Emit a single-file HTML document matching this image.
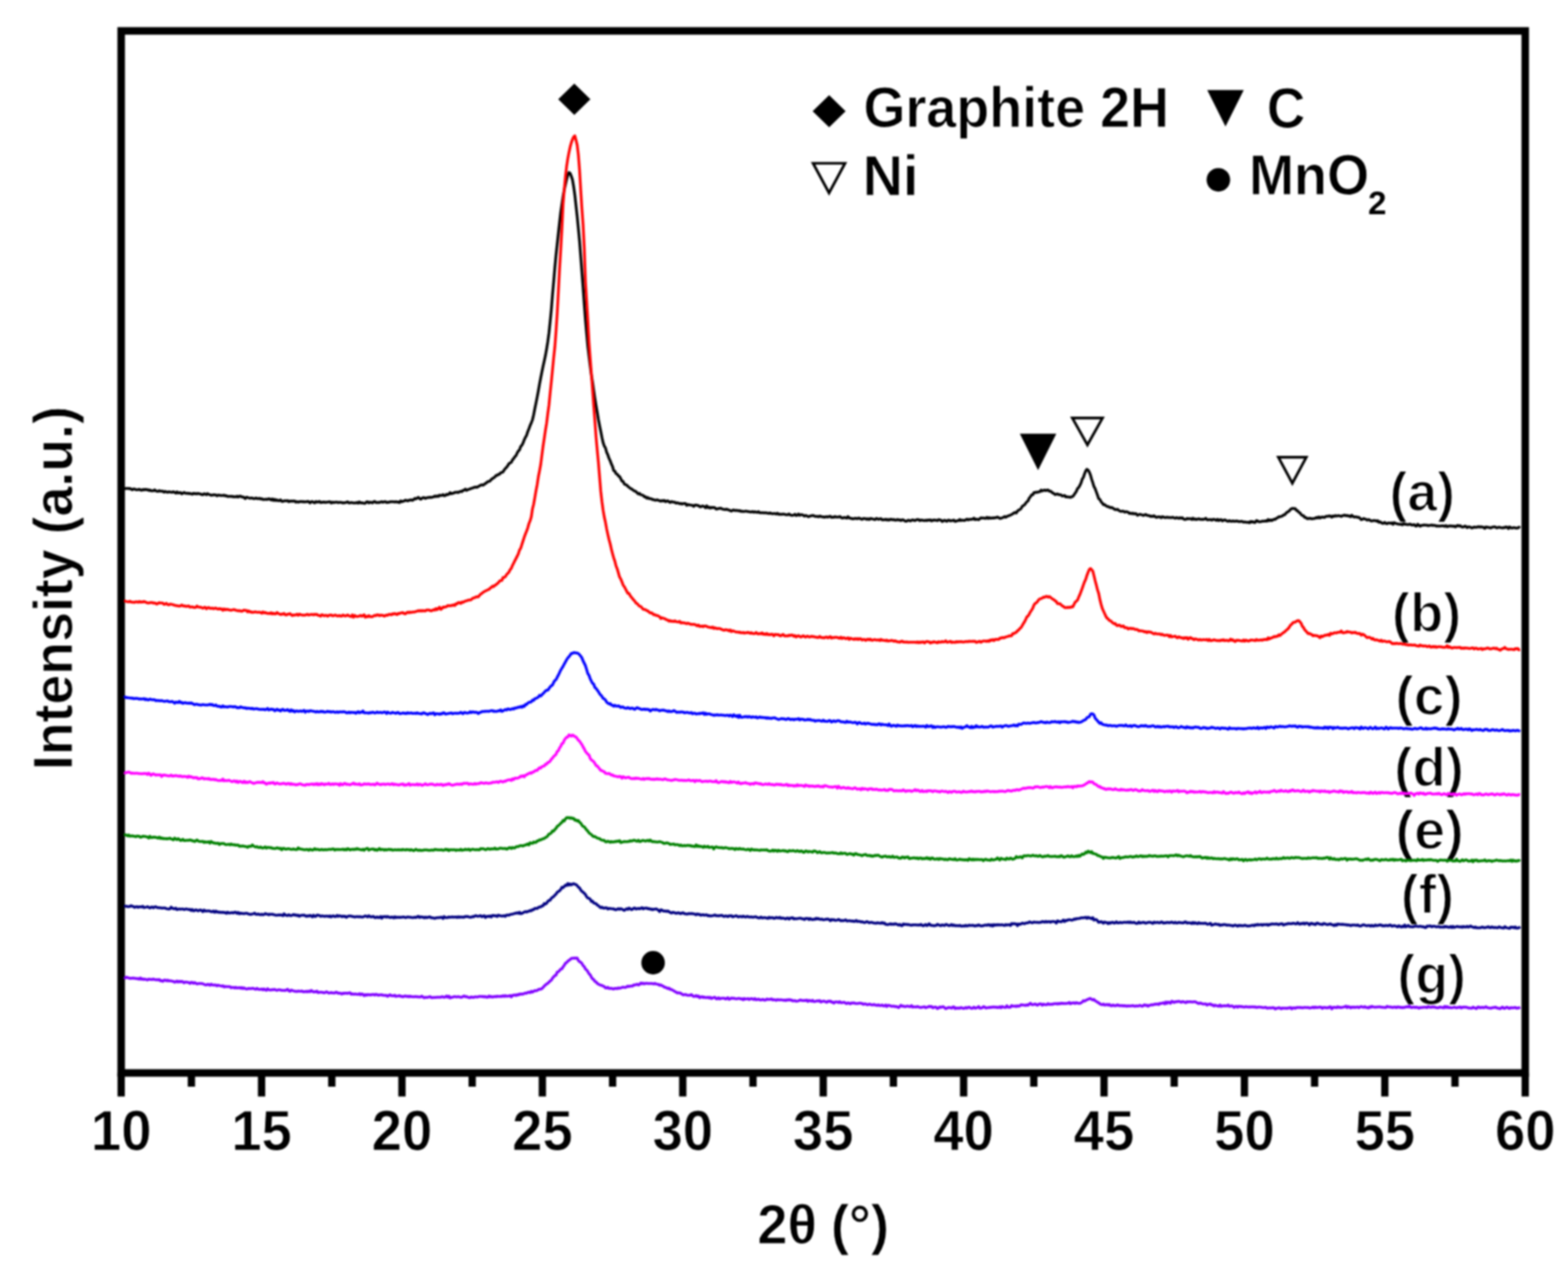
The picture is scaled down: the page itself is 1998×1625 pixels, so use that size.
<!DOCTYPE html>
<html><head><meta charset="utf-8"><title>XRD patterns</title>
<style>html,body{margin:0;padding:0;background:#fff;overflow:hidden}svg{display:block}#w{filter:blur(1px)}</style>
</head><body>
<div id="w"><svg width="1998" height="1625" viewBox="0 0 1998 1625"><rect x="0" y="0" width="1998" height="1625" fill="#fff"/>
<rect x="154.4" y="39.4" width="1789.1" height="1328.1" fill="none" stroke="#000" stroke-width="9.6"/>
<path d="M154.4 1367.5 V1397.5 M243.9 1367.5 V1385 M333.3 1367.5 V1397.5 M422.8 1367.5 V1385 M512.2 1367.5 V1397.5 M601.7 1367.5 V1385 M691.1 1367.5 V1397.5 M780.6 1367.5 V1385 M870.0 1367.5 V1397.5 M959.5 1367.5 V1385 M1049.0 1367.5 V1397.5 M1138.4 1367.5 V1385 M1227.9 1367.5 V1397.5 M1317.3 1367.5 V1385 M1406.8 1367.5 V1397.5 M1496.2 1367.5 V1385 M1585.7 1367.5 V1397.5 M1675.1 1367.5 V1385 M1764.6 1367.5 V1397.5 M1854.0 1367.5 V1385 M1943.5 1367.5 V1397.5" stroke="#000" stroke-width="9.3" fill="none"/>
<g font-family='"Liberation Sans", Arial, Helvetica, sans-serif' font-weight="bold" fill="#000" stroke="#fff" stroke-width="1.0">
<text x="115.8" y="1466" font-size="72" textLength="77.3" lengthAdjust="spacingAndGlyphs">10</text>
<text x="294.7" y="1466" font-size="72" textLength="77.3" lengthAdjust="spacingAndGlyphs">15</text>
<text x="473.6" y="1466" font-size="72" textLength="77.3" lengthAdjust="spacingAndGlyphs">20</text>
<text x="652.5" y="1466" font-size="72" textLength="77.3" lengthAdjust="spacingAndGlyphs">25</text>
<text x="831.4" y="1466" font-size="72" textLength="77.3" lengthAdjust="spacingAndGlyphs">30</text>
<text x="1010.3" y="1466" font-size="72" textLength="77.3" lengthAdjust="spacingAndGlyphs">35</text>
<text x="1189.2" y="1466" font-size="72" textLength="77.3" lengthAdjust="spacingAndGlyphs">40</text>
<text x="1368.1" y="1466" font-size="72" textLength="77.3" lengthAdjust="spacingAndGlyphs">45</text>
<text x="1547.0" y="1466" font-size="72" textLength="77.3" lengthAdjust="spacingAndGlyphs">50</text>
<text x="1725.9" y="1466" font-size="72" textLength="77.3" lengthAdjust="spacingAndGlyphs">55</text>
<text x="1904.9" y="1466" font-size="72" textLength="77.3" lengthAdjust="spacingAndGlyphs">60</text>
<text x="965.1" y="1585.0" font-size="71" textLength="75.9" lengthAdjust="spacingAndGlyphs">2θ</text>
<text x="1058.7" y="1585.0" font-size="71" textLength="74.1" lengthAdjust="spacingAndGlyphs">(°)</text>
<g transform="translate(92 977) rotate(-90)"><text x="-4.6" y="0.0" font-size="71" textLength="464.0" lengthAdjust="spacingAndGlyphs">Intensity (a.u.)</text></g>
<text x="1100.2" y="162.0" font-size="72" textLength="389.4" lengthAdjust="spacingAndGlyphs">Graphite 2H</text>
<text x="1099.2" y="248.6" font-size="72" textLength="71.2" lengthAdjust="spacingAndGlyphs">Ni</text>
<text x="1614.2" y="163.0" font-size="72" textLength="49.0" lengthAdjust="spacingAndGlyphs">C</text>
<text x="1591.4" y="248.4" font-size="72" textLength="153.2" lengthAdjust="spacingAndGlyphs">MnO</text>
<text x="1743.2" y="273.0" font-size="43" textLength="23.4" lengthAdjust="spacingAndGlyphs" stroke="none">2</text>
</g>
<g font-family='"Liberation Sans", Arial, Helvetica, sans-serif' font-weight="bold" fill="#000" stroke="#fff" stroke-width="2.0">
<text x="1770.4" y="651.0" font-size="70" textLength="83.8" lengthAdjust="spacingAndGlyphs">(a)</text>
<text x="1773.6" y="805.0" font-size="70" textLength="88.4" lengthAdjust="spacingAndGlyphs">(b)</text>
<text x="1778.0" y="910.5" font-size="70" textLength="86.0" lengthAdjust="spacingAndGlyphs">(c)</text>
<text x="1776.5" y="1001.5" font-size="70" textLength="88.9" lengthAdjust="spacingAndGlyphs">(d)</text>
<text x="1777.9" y="1082.0" font-size="70" textLength="87.6" lengthAdjust="spacingAndGlyphs">(e)</text>
<text x="1785.1" y="1163.5" font-size="70" textLength="67.6" lengthAdjust="spacingAndGlyphs">(f)</text>
<text x="1780.6" y="1266.0" font-size="70" textLength="87.4" lengthAdjust="spacingAndGlyphs">(g)</text>
</g>
<path d="M158.0 622.5 159.5 622.8 161.0 622.6 162.5 622.4 164.0 622.8 165.5 622.6 167.0 623.3 168.5 624.2 170.0 623.3 171.5 623.3 173.0 624.1 174.5 624.2 176.0 624.1 177.5 623.6 179.0 624.3 180.5 624.9 182.0 623.8 183.5 624.4 185.0 623.7 186.5 624.2 188.0 624.0 189.5 625.0 191.0 624.5 192.5 625.6 194.0 625.6 195.5 625.5 197.0 624.3 198.5 625.6 200.0 626.0 201.5 626.2 203.0 625.3 204.5 626.0 206.0 625.9 207.5 626.1 209.0 627.3 210.5 626.3 212.0 626.8 213.5 627.5 215.0 626.7 216.5 627.1 218.0 627.3 219.5 627.4 221.0 626.7 222.5 627.6 224.0 628.5 225.5 626.8 227.0 628.4 228.5 628.0 230.0 627.7 231.5 629.4 233.0 628.7 234.5 627.6 236.0 628.5 237.5 628.9 239.0 628.5 240.5 629.2 242.0 628.8 243.5 629.3 245.0 629.9 246.5 628.7 248.0 629.3 249.5 629.0 251.0 629.5 252.5 628.8 254.0 629.3 255.5 629.6 257.0 630.3 258.5 630.6 260.0 629.2 261.5 629.6 263.0 630.6 264.5 629.1 266.0 630.1 267.5 630.4 269.0 631.3 270.5 631.1 272.0 630.6 273.5 630.7 275.0 630.8 276.5 632.0 278.0 631.0 279.5 631.1 281.0 631.6 282.5 631.5 284.0 631.5 285.5 631.1 287.0 631.9 288.5 631.8 290.0 632.8 291.5 632.7 293.0 632.4 294.5 632.9 296.0 632.4 297.5 633.4 299.0 632.9 300.5 633.4 302.0 632.4 303.5 633.5 305.0 632.4 306.5 632.3 308.0 633.5 309.5 633.3 311.0 634.1 312.5 635.5 314.0 633.7 315.5 634.0 317.0 634.6 318.5 635.0 320.0 634.7 321.5 634.8 323.0 635.5 324.5 635.5 326.0 634.7 327.5 635.4 329.0 635.6 330.5 635.1 332.0 636.0 333.5 635.5 335.0 636.7 336.5 636.4 338.0 636.5 339.5 636.2 341.0 636.6 342.5 635.6 344.0 636.2 345.5 637.3 347.0 635.9 348.5 637.8 350.0 636.4 351.5 638.0 353.0 637.1 354.5 638.2 356.0 638.0 357.5 637.1 359.0 638.9 360.5 639.1 362.0 638.3 363.5 638.3 365.0 638.4 366.5 638.0 368.0 639.4 369.5 638.5 371.0 638.9 372.5 638.5 374.0 638.7 375.5 638.4 377.0 640.0 378.5 639.2 380.0 640.0 381.5 639.5 383.0 639.1 384.5 639.4 386.0 639.3 387.5 639.7 389.0 639.5 390.5 639.6 392.0 639.0 393.5 639.4 395.0 640.9 396.5 639.5 398.0 639.3 399.5 640.2 401.0 640.9 402.5 639.2 404.0 639.9 405.5 639.7 407.0 639.0 408.5 640.6 410.0 640.1 411.5 640.2 413.0 639.7 414.5 640.5 416.0 639.9 417.5 640.1 419.0 639.6 420.5 639.5 422.0 641.1 423.5 640.0 425.0 640.5 426.5 640.3 428.0 640.1 429.5 640.0 431.0 640.7 432.5 640.2 434.0 640.3 435.5 640.4 437.0 641.1 438.5 640.8 440.0 640.7 441.5 640.1 443.0 639.6 444.5 641.0 446.0 641.0 447.5 640.4 449.0 640.8 450.5 640.9 452.0 641.0 453.5 641.0 455.0 640.2 456.5 641.4 458.0 639.7 459.5 641.0 461.0 640.8 462.5 641.0 464.0 641.6 465.5 641.4 467.0 639.8 468.5 639.5 470.0 641.0 471.5 639.9 473.0 640.4 474.5 640.9 476.0 639.4 477.5 639.1 479.0 640.5 480.5 640.4 482.0 640.2 483.5 640.4 485.0 639.8 486.5 639.4 488.0 640.2 489.5 639.6 491.0 639.2 492.5 640.5 494.0 640.1 495.5 640.3 497.0 639.5 498.5 639.6 500.0 639.4 501.5 639.4 503.0 640.0 504.5 639.3 506.0 639.9 507.5 639.7 509.0 640.6 510.5 638.4 512.0 639.5 513.5 638.8 515.0 638.6 516.5 637.5 518.0 637.9 519.5 638.4 521.0 637.6 522.5 637.5 524.0 637.0 525.5 637.7 527.0 636.7 528.5 635.2 530.0 635.9 531.5 634.9 533.0 633.9 534.5 635.3 536.0 636.3 537.5 635.3 539.0 634.3 540.5 634.3 542.0 635.3 543.5 634.5 545.0 634.2 546.5 633.9 548.0 633.8 549.5 634.0 551.0 633.6 552.5 633.2 554.0 632.2 555.5 632.9 557.0 632.0 558.5 632.8 560.0 631.1 561.5 631.5 563.0 631.4 564.5 630.3 566.0 631.9 567.5 631.5 569.0 630.0 570.5 630.5 572.0 629.9 573.5 627.8 575.0 629.3 576.5 628.7 578.0 628.5 579.5 627.5 581.0 627.6 582.5 627.3 584.0 627.7 585.5 626.8 587.0 626.2 588.5 626.7 590.0 625.0 591.5 624.7 593.0 623.4 594.5 625.0 596.0 624.2 597.5 623.7 599.0 623.2 600.5 622.4 602.0 622.1 603.5 621.4 605.0 621.0 606.5 620.7 608.0 621.1 609.5 620.1 611.0 619.2 612.5 618.4 614.0 617.8 615.5 618.5 617.0 617.3 618.5 616.3 620.0 615.3 621.5 613.9 623.0 613.5 624.5 613.0 626.0 611.0 627.5 610.0 629.0 608.9 630.5 608.0 632.0 606.0 633.5 605.9 635.0 604.5 636.5 604.5 638.0 602.5 639.5 602.1 641.0 601.4 642.5 598.8 644.0 597.0 645.5 595.6 647.0 593.5 648.5 591.0 650.0 590.0 651.5 589.2 653.0 586.2 654.5 584.5 656.0 582.1 657.5 580.8 659.0 577.4 660.5 574.8 662.0 573.4 663.5 569.2 665.0 567.5 666.5 564.6 668.0 560.6 669.5 557.4 671.0 554.8 672.5 550.1 674.0 546.4 675.5 542.3 677.0 539.0 678.5 535.0 680.0 528.7 681.5 520.9 683.0 513.7 684.5 506.0 686.0 498.2 687.5 489.5 689.0 481.6 690.5 474.1 692.0 466.9 693.5 460.2 695.0 453.2 696.5 444.9 698.0 435.5 699.5 424.5 701.0 410.1 702.5 394.8 704.0 375.9 705.5 359.2 707.0 341.1 708.5 325.1 710.0 311.2 711.5 297.2 713.0 283.6 714.5 270.5 716.0 260.3 717.5 250.2 719.0 241.8 720.5 235.3 722.0 228.6 723.5 223.1 725.0 219.9 726.5 221.0 728.0 224.6 729.5 229.3 731.0 238.1 732.5 248.7 734.0 262.5 735.5 276.2 737.0 291.7 738.5 307.5 740.0 327.1 741.5 346.9 743.0 366.9 744.5 388.0 746.0 407.8 747.5 425.1 749.0 441.5 750.5 454.1 752.0 466.3 753.5 477.9 755.0 486.6 756.5 497.2 758.0 507.5 759.5 516.9 761.0 525.3 762.5 534.6 764.0 542.3 765.5 549.7 767.0 557.4 768.5 564.2 770.0 568.5 771.5 570.9 773.0 576.4 774.5 579.6 776.0 584.1 777.5 587.2 779.0 591.3 780.5 594.5 782.0 599.8 783.5 600.6 785.0 603.7 786.5 604.3 788.0 606.6 789.5 607.4 791.0 610.2 792.5 613.1 794.0 613.7 795.5 616.7 797.0 617.7 798.5 618.2 800.0 619.8 801.5 621.0 803.0 622.3 804.5 623.1 806.0 624.0 807.5 625.3 809.0 625.9 810.5 626.6 812.0 628.3 813.5 629.6 815.0 628.9 816.5 630.6 818.0 630.9 819.5 631.4 821.0 633.2 822.5 633.1 824.0 634.9 825.5 634.1 827.0 635.4 828.5 635.5 830.0 635.7 831.5 636.8 833.0 636.7 834.5 637.5 836.0 637.4 837.5 637.0 839.0 637.8 840.5 638.1 842.0 638.8 843.5 637.9 845.0 638.6 846.5 637.8 848.0 639.4 849.5 638.6 851.0 638.3 852.5 639.6 854.0 640.5 855.5 639.2 857.0 639.7 858.5 640.1 860.0 640.1 861.5 641.3 863.0 640.8 864.5 641.1 866.0 642.1 867.5 641.5 869.0 642.4 870.5 641.8 872.0 641.8 873.5 641.7 875.0 644.1 876.5 643.0 878.0 643.5 879.5 643.6 881.0 643.9 882.5 644.0 884.0 645.4 885.5 643.8 887.0 643.7 888.5 644.2 890.0 644.2 891.5 645.7 893.0 645.9 894.5 645.1 896.0 645.0 897.5 645.8 899.0 647.1 900.5 644.7 902.0 647.0 903.5 646.2 905.0 647.6 906.5 646.6 908.0 647.2 909.5 646.7 911.0 647.2 912.5 648.8 914.0 648.7 915.5 648.1 917.0 648.0 918.5 647.6 920.0 648.6 921.5 649.0 923.0 649.2 924.5 649.4 926.0 648.9 927.5 649.7 929.0 649.9 930.5 650.9 932.0 651.4 933.5 650.3 935.0 650.1 936.5 650.7 938.0 650.5 939.5 650.6 941.0 651.1 942.5 650.7 944.0 651.8 945.5 651.5 947.0 651.9 948.5 651.8 950.0 651.6 951.5 651.6 953.0 652.1 954.5 652.1 956.0 652.6 957.5 652.6 959.0 651.9 960.5 652.9 962.0 652.2 963.5 652.7 965.0 653.0 966.5 652.1 968.0 653.5 969.5 653.6 971.0 653.6 972.5 653.5 974.0 653.7 975.5 653.4 977.0 653.9 978.5 653.9 980.0 654.4 981.5 653.7 983.0 654.6 984.5 654.7 986.0 654.6 987.5 654.5 989.0 655.2 990.5 654.0 992.0 655.4 993.5 655.3 995.0 655.4 996.5 655.6 998.0 655.1 999.5 655.4 1001.0 656.0 1002.5 656.0 1004.0 656.0 1005.5 655.0 1007.0 656.3 1008.5 656.8 1010.0 656.8 1011.5 656.4 1013.0 655.4 1014.5 657.0 1016.0 656.5 1017.5 655.1 1019.0 656.9 1020.5 655.9 1022.0 656.1 1023.5 656.6 1025.0 657.8 1026.5 656.9 1028.0 657.4 1029.5 658.4 1031.0 658.4 1032.5 657.4 1034.0 657.4 1035.5 656.9 1037.0 657.3 1038.5 658.1 1040.0 658.2 1041.5 658.1 1043.0 658.7 1044.5 657.7 1046.0 658.2 1047.5 658.8 1049.0 658.8 1050.5 659.2 1052.0 658.8 1053.5 658.5 1055.0 659.0 1056.5 658.2 1058.0 657.9 1059.5 659.4 1061.0 659.1 1062.5 659.3 1064.0 658.2 1065.5 659.1 1067.0 659.0 1068.5 659.0 1070.0 658.2 1071.5 659.4 1073.0 660.2 1074.5 660.0 1076.0 659.5 1077.5 659.9 1079.0 660.4 1080.5 658.4 1082.0 660.0 1083.5 660.5 1085.0 660.7 1086.5 661.3 1088.0 661.1 1089.5 660.6 1091.0 660.7 1092.5 661.1 1094.0 660.3 1095.5 660.7 1097.0 661.3 1098.5 662.0 1100.0 660.8 1101.5 660.9 1103.0 661.1 1104.5 661.9 1106.0 661.1 1107.5 662.1 1109.0 660.7 1110.5 661.2 1112.0 661.3 1113.5 661.9 1115.0 662.2 1116.5 660.7 1118.0 661.1 1119.5 661.9 1121.0 661.4 1122.5 661.0 1124.0 662.6 1125.5 662.3 1127.0 662.4 1128.5 661.8 1130.0 662.8 1131.5 662.1 1133.0 663.0 1134.5 661.8 1136.0 661.9 1137.5 662.6 1139.0 662.1 1140.5 663.0 1142.0 662.8 1143.5 662.1 1145.0 662.8 1146.5 662.6 1148.0 663.4 1149.5 662.5 1151.0 662.6 1152.5 663.7 1154.0 664.3 1155.5 664.2 1157.0 663.1 1158.5 663.2 1160.0 664.0 1161.5 663.1 1163.0 662.6 1164.5 663.2 1166.0 663.4 1167.5 662.7 1169.0 662.2 1170.5 662.3 1172.0 663.6 1173.5 662.7 1175.0 663.1 1176.5 663.3 1178.0 663.6 1179.5 663.0 1181.0 663.5 1182.5 662.7 1184.0 663.0 1185.5 662.6 1187.0 663.9 1188.5 663.2 1190.0 662.8 1191.5 663.0 1193.0 663.1 1194.5 663.6 1196.0 662.2 1197.5 662.6 1199.0 663.0 1200.5 664.7 1202.0 663.8 1203.5 663.1 1205.0 663.6 1206.5 664.4 1208.0 663.1 1209.5 663.0 1211.0 663.9 1212.5 663.5 1214.0 663.6 1215.5 662.9 1217.0 664.4 1218.5 664.2 1220.0 663.5 1221.5 663.6 1223.0 662.0 1224.5 663.5 1226.0 662.9 1227.5 663.2 1229.0 663.3 1230.5 662.6 1232.0 661.6 1233.5 662.7 1235.0 661.9 1236.5 662.0 1238.0 661.7 1239.5 661.7 1241.0 660.4 1242.5 662.3 1244.0 661.6 1245.5 662.0 1247.0 662.4 1248.5 661.1 1250.0 659.9 1251.5 660.4 1253.0 660.1 1254.5 660.5 1256.0 660.8 1257.5 659.4 1259.0 660.8 1260.5 659.6 1262.0 660.6 1263.5 660.3 1265.0 660.1 1266.5 660.2 1268.0 659.8 1269.5 659.7 1271.0 658.9 1272.5 659.8 1274.0 660.7 1275.5 660.6 1277.0 660.0 1278.5 659.4 1280.0 658.3 1281.5 659.3 1283.0 658.1 1284.5 657.7 1286.0 657.0 1287.5 656.6 1289.0 655.6 1290.5 655.0 1292.0 653.6 1293.5 653.1 1295.0 653.8 1296.5 651.4 1298.0 650.2 1299.5 649.5 1301.0 648.2 1302.5 645.5 1304.0 644.4 1305.5 643.4 1307.0 641.3 1308.5 639.5 1310.0 638.3 1311.5 634.8 1313.0 633.1 1314.5 630.8 1316.0 630.6 1317.5 627.7 1319.0 627.8 1320.5 627.2 1322.0 627.4 1323.5 626.8 1325.0 626.8 1326.5 624.7 1328.0 625.8 1329.5 624.9 1331.0 624.6 1332.5 625.3 1334.0 624.7 1335.5 624.4 1337.0 625.9 1338.5 625.9 1340.0 627.1 1341.5 628.4 1343.0 629.0 1344.5 630.4 1346.0 629.9 1347.5 629.5 1349.0 630.4 1350.5 630.6 1352.0 630.8 1353.5 632.2 1355.0 631.9 1356.5 631.4 1358.0 633.3 1359.5 633.1 1361.0 633.6 1362.5 633.5 1364.0 633.9 1365.5 633.1 1367.0 632.8 1368.5 630.7 1370.0 628.6 1371.5 626.3 1373.0 622.8 1374.5 621.3 1376.0 618.7 1377.5 615.6 1379.0 610.7 1380.5 608.4 1382.0 603.8 1383.5 600.1 1385.0 598.2 1386.5 599.2 1388.0 601.7 1389.5 605.4 1391.0 610.8 1392.5 615.3 1394.0 620.2 1395.5 622.9 1397.0 627.0 1398.5 631.2 1400.0 635.6 1401.5 636.5 1403.0 639.4 1404.5 641.1 1406.0 643.2 1407.5 643.1 1409.0 644.4 1410.5 645.4 1412.0 645.6 1413.5 646.3 1415.0 647.1 1416.5 646.7 1418.0 647.6 1419.5 648.6 1421.0 649.4 1422.5 649.6 1424.0 649.1 1425.5 650.3 1427.0 651.4 1428.5 651.7 1430.0 651.6 1431.5 651.5 1433.0 652.7 1434.5 652.3 1436.0 652.3 1437.5 652.8 1439.0 654.4 1440.5 653.9 1442.0 654.8 1443.5 654.0 1445.0 655.1 1446.5 654.5 1448.0 655.0 1449.5 656.8 1451.0 656.0 1452.5 655.4 1454.0 655.9 1455.5 656.3 1457.0 657.0 1458.5 656.2 1460.0 655.7 1461.5 656.7 1463.0 657.1 1464.5 657.3 1466.0 658.2 1467.5 657.8 1469.0 658.3 1470.5 657.3 1472.0 658.6 1473.5 659.5 1475.0 658.9 1476.5 658.7 1478.0 658.8 1479.5 659.9 1481.0 658.4 1482.5 659.0 1484.0 659.5 1485.5 659.7 1487.0 659.1 1488.5 659.7 1490.0 659.4 1491.5 659.8 1493.0 659.7 1494.5 659.2 1496.0 660.0 1497.5 660.6 1499.0 659.6 1500.5 660.1 1502.0 660.7 1503.5 659.8 1505.0 660.6 1506.5 659.9 1508.0 661.3 1509.5 662.1 1511.0 662.0 1512.5 660.7 1514.0 661.4 1515.5 661.1 1517.0 661.1 1518.5 662.1 1520.0 660.4 1521.5 661.9 1523.0 661.3 1524.5 662.2 1526.0 661.6 1527.5 661.1 1529.0 661.8 1530.5 662.1 1532.0 661.7 1533.5 662.1 1535.0 661.5 1536.5 660.6 1538.0 662.5 1539.5 662.5 1541.0 662.2 1542.5 662.2 1544.0 662.9 1545.5 662.1 1547.0 662.0 1548.5 662.4 1550.0 663.3 1551.5 661.9 1553.0 663.5 1554.5 662.5 1556.0 662.3 1557.5 663.9 1559.0 663.2 1560.5 662.5 1562.0 663.2 1563.5 664.1 1565.0 664.4 1566.5 663.5 1568.0 664.2 1569.5 664.5 1571.0 663.8 1572.5 664.5 1574.0 664.3 1575.5 664.1 1577.0 664.3 1578.5 664.7 1580.0 664.7 1581.5 664.5 1583.0 664.6 1584.5 665.6 1586.0 665.1 1587.5 665.5 1589.0 665.7 1590.5 665.4 1592.0 666.4 1593.5 664.5 1595.0 665.4 1596.5 664.7 1598.0 666.0 1599.5 665.8 1601.0 663.5 1602.5 664.0 1604.0 664.9 1605.5 664.9 1607.0 664.8 1608.5 664.2 1610.0 664.3 1611.5 664.3 1613.0 663.7 1614.5 664.3 1616.0 662.1 1617.5 663.7 1619.0 662.5 1620.5 663.5 1622.0 662.5 1623.5 661.7 1625.0 661.9 1626.5 660.5 1628.0 659.8 1629.5 658.6 1631.0 658.7 1632.5 658.2 1634.0 657.7 1635.5 656.2 1637.0 656.0 1638.5 654.3 1640.0 652.9 1641.5 652.0 1643.0 651.0 1644.5 649.1 1646.0 648.3 1647.5 647.9 1649.0 648.2 1650.5 648.3 1652.0 650.5 1653.5 651.0 1655.0 653.0 1656.5 653.7 1658.0 655.8 1659.5 657.0 1661.0 657.3 1662.5 659.6 1664.0 659.4 1665.5 660.9 1667.0 661.0 1668.5 660.5 1670.0 660.8 1671.5 661.2 1673.0 661.0 1674.5 660.8 1676.0 660.5 1677.5 659.4 1679.0 660.2 1680.5 658.8 1682.0 660.2 1683.5 659.3 1685.0 659.1 1686.5 659.2 1688.0 659.4 1689.5 658.2 1691.0 657.9 1692.5 658.1 1694.0 657.4 1695.5 657.9 1697.0 659.2 1698.5 657.5 1700.0 658.3 1701.5 657.0 1703.0 657.8 1704.5 657.3 1706.0 657.3 1707.5 657.6 1709.0 658.2 1710.5 657.2 1712.0 657.1 1713.5 656.4 1715.0 657.4 1716.5 656.9 1718.0 657.7 1719.5 657.4 1721.0 658.7 1722.5 656.7 1724.0 658.0 1725.5 659.1 1727.0 658.7 1728.5 658.8 1730.0 659.5 1731.5 659.2 1733.0 660.5 1734.5 662.3 1736.0 661.9 1737.5 660.8 1739.0 661.3 1740.5 661.8 1742.0 663.0 1743.5 662.2 1745.0 662.5 1746.5 663.8 1748.0 664.0 1749.5 663.6 1751.0 663.4 1752.5 663.5 1754.0 664.3 1755.5 663.6 1757.0 665.7 1758.5 665.1 1760.0 666.0 1761.5 667.1 1763.0 666.9 1764.5 665.7 1766.0 667.1 1767.5 667.5 1769.0 666.5 1770.5 666.5 1772.0 667.1 1773.5 666.3 1775.0 668.3 1776.5 666.1 1778.0 666.9 1779.5 667.5 1781.0 667.7 1782.5 668.0 1784.0 668.2 1785.5 668.0 1787.0 668.9 1788.5 667.0 1790.0 668.3 1791.5 668.0 1793.0 668.6 1794.5 668.7 1796.0 668.1 1797.5 668.3 1799.0 669.3 1800.5 669.1 1802.0 668.5 1803.5 670.2 1805.0 670.4 1806.5 668.2 1808.0 669.4 1809.5 670.7 1811.0 669.8 1812.5 669.5 1814.0 669.3 1815.5 669.1 1817.0 669.4 1818.5 669.3 1820.0 670.1 1821.5 669.5 1823.0 669.5 1824.5 669.1 1826.0 669.8 1827.5 669.4 1829.0 669.9 1830.5 670.6 1832.0 670.3 1833.5 670.4 1835.0 670.4 1836.5 670.3 1838.0 670.2 1839.5 670.2 1841.0 670.9 1842.5 669.8 1844.0 671.3 1845.5 670.6 1847.0 670.2 1848.5 670.4 1850.0 670.3 1851.5 670.9 1853.0 670.4 1854.5 671.6 1856.0 670.5 1857.5 669.6 1859.0 670.6 1860.5 669.9 1862.0 671.1 1863.5 671.8 1865.0 671.6 1866.5 670.5 1868.0 670.9 1869.5 672.4 1871.0 671.6 1872.5 671.5 1874.0 672.1 1875.5 673.0 1877.0 672.4 1878.5 671.7 1880.0 671.9 1881.5 672.1 1883.0 671.4 1884.5 671.2 1886.0 671.9 1887.5 671.3 1889.0 671.9 1890.5 672.1 1892.0 673.4 1893.5 671.6 1895.0 672.0 1896.5 672.1 1898.0 672.5 1899.5 672.9 1901.0 672.0 1902.5 671.8 1904.0 671.4 1905.5 671.8 1907.0 672.7 1908.5 672.5 1910.0 671.9 1911.5 672.3 1913.0 672.6 1914.5 672.9 1916.0 672.3 1917.5 672.5 1919.0 671.6 1920.5 672.0 1922.0 673.7 1923.5 671.5 1925.0 672.6 1926.5 673.0 1928.0 672.6 1929.5 672.4 1931.0 672.9 1932.5 672.9 1934.0 672.9 1935.5 671.8 1937.0 672.9" fill="none" stroke="#000000" stroke-width="3.5" stroke-linejoin="round"/>
<path d="M158.0 765.8 159.5 766.0 161.0 766.6 162.5 766.9 164.0 767.1 165.5 766.3 167.0 767.3 168.5 767.5 170.0 767.5 171.5 767.8 173.0 766.9 174.5 767.0 176.0 767.7 177.5 766.5 179.0 767.5 180.5 767.1 182.0 767.3 183.5 766.6 185.0 767.2 186.5 767.8 188.0 768.5 189.5 768.6 191.0 768.1 192.5 768.1 194.0 767.9 195.5 768.7 197.0 768.4 198.5 769.1 200.0 769.9 201.5 768.9 203.0 768.1 204.5 768.6 206.0 768.4 207.5 768.7 209.0 770.3 210.5 769.8 212.0 768.9 213.5 770.4 215.0 770.9 216.5 770.1 218.0 770.1 219.5 770.4 221.0 771.0 222.5 771.3 224.0 771.8 225.5 772.0 227.0 772.2 228.5 772.4 230.0 772.2 231.5 771.0 233.0 772.0 234.5 772.5 236.0 772.2 237.5 773.1 239.0 772.5 240.5 772.3 242.0 773.9 243.5 773.6 245.0 773.5 246.5 774.0 248.0 774.3 249.5 774.0 251.0 772.4 252.5 773.6 254.0 773.9 255.5 773.7 257.0 774.5 258.5 775.2 260.0 774.3 261.5 774.0 263.0 776.0 264.5 774.7 266.0 774.3 267.5 775.3 269.0 775.5 270.5 774.9 272.0 775.9 273.5 775.3 275.0 775.1 276.5 775.9 278.0 776.3 279.5 775.6 281.0 776.3 282.5 776.1 284.0 778.0 285.5 776.0 287.0 777.3 288.5 776.6 290.0 776.7 291.5 777.3 293.0 777.5 294.5 777.8 296.0 777.4 297.5 776.9 299.0 777.1 300.5 777.8 302.0 778.0 303.5 778.6 305.0 778.2 306.5 778.7 308.0 779.1 309.5 778.4 311.0 777.6 312.5 777.9 314.0 777.9 315.5 779.9 317.0 778.6 318.5 780.0 320.0 779.8 321.5 780.6 323.0 780.3 324.5 779.8 326.0 779.9 327.5 780.2 329.0 780.4 330.5 780.1 332.0 780.6 333.5 781.7 335.0 779.9 336.5 781.2 338.0 780.6 339.5 781.4 341.0 781.9 342.5 781.5 344.0 782.1 345.5 780.8 347.0 782.5 348.5 781.6 350.0 782.4 351.5 782.2 353.0 780.6 354.5 781.8 356.0 782.5 357.5 783.3 359.0 782.6 360.5 782.7 362.0 781.8 363.5 783.5 365.0 783.8 366.5 782.8 368.0 782.8 369.5 782.0 371.0 783.5 372.5 784.7 374.0 783.6 375.5 784.0 377.0 783.6 378.5 782.7 380.0 784.2 381.5 782.7 383.0 783.4 384.5 783.7 386.0 784.1 387.5 783.9 389.0 783.9 390.5 783.3 392.0 783.0 393.5 783.9 395.0 783.4 396.5 783.1 398.0 783.2 399.5 783.7 401.0 782.9 402.5 783.3 404.0 783.1 405.5 784.3 407.0 784.4 408.5 785.4 410.0 783.4 411.5 783.9 413.0 784.9 414.5 784.3 416.0 784.2 417.5 785.5 419.0 784.3 420.5 783.9 422.0 783.8 423.5 784.8 425.0 784.8 426.5 783.9 428.0 784.1 429.5 785.1 431.0 785.1 432.5 784.4 434.0 785.2 435.5 785.2 437.0 783.8 438.5 784.7 440.0 785.2 441.5 784.6 443.0 783.7 444.5 784.8 446.0 785.4 447.5 785.9 449.0 783.7 450.5 786.6 452.0 784.3 453.5 785.6 455.0 785.7 456.5 785.6 458.0 785.1 459.5 784.3 461.0 785.4 462.5 784.6 464.0 783.5 465.5 786.7 467.0 785.4 468.5 786.1 470.0 784.5 471.5 785.9 473.0 786.0 474.5 785.9 476.0 785.0 477.5 784.2 479.0 784.8 480.5 783.5 482.0 783.7 483.5 784.7 485.0 783.9 486.5 784.3 488.0 784.2 489.5 785.3 491.0 784.7 492.5 783.8 494.0 784.3 495.5 783.0 497.0 783.1 498.5 783.7 500.0 782.3 501.5 782.7 503.0 781.9 504.5 782.6 506.0 783.3 507.5 781.7 509.0 782.1 510.5 781.3 512.0 780.9 513.5 780.7 515.0 782.1 516.5 782.4 518.0 781.1 519.5 780.2 521.0 780.9 522.5 780.1 524.0 780.6 525.5 780.1 527.0 780.0 528.5 780.0 530.0 779.2 531.5 779.1 533.0 778.2 534.5 778.8 536.0 778.1 537.5 778.8 539.0 778.1 540.5 778.6 542.0 778.7 543.5 777.4 545.0 777.6 546.5 777.4 548.0 778.2 549.5 778.6 551.0 777.9 552.5 776.9 554.0 777.7 555.5 775.6 557.0 777.1 558.5 775.5 560.0 773.9 561.5 776.7 563.0 775.7 564.5 773.7 566.0 774.1 567.5 773.4 569.0 773.2 570.5 771.8 572.0 771.9 573.5 772.2 575.0 771.6 576.5 771.8 578.0 770.8 579.5 771.7 581.0 769.5 582.5 769.7 584.0 768.0 585.5 768.0 587.0 769.1 588.5 767.3 590.0 767.7 591.5 766.9 593.0 765.9 594.5 765.8 596.0 765.2 597.5 764.7 599.0 764.8 600.5 764.2 602.0 762.8 603.5 761.9 605.0 761.8 606.5 760.7 608.0 760.6 609.5 760.7 611.0 758.7 612.5 757.3 614.0 756.3 615.5 755.0 617.0 754.1 618.5 753.1 620.0 752.6 621.5 751.6 623.0 751.3 624.5 749.6 626.0 748.7 627.5 747.1 629.0 747.7 630.5 745.9 632.0 745.5 633.5 743.7 635.0 742.9 636.5 740.6 638.0 739.9 639.5 739.8 641.0 736.0 642.5 736.0 644.0 734.8 645.5 732.4 647.0 730.8 648.5 729.3 650.0 726.1 651.5 724.3 653.0 720.7 654.5 717.8 656.0 714.7 657.5 711.9 659.0 708.9 660.5 705.7 662.0 700.9 663.5 698.8 665.0 693.9 666.5 689.4 668.0 684.7 669.5 680.7 671.0 676.9 672.5 672.8 674.0 667.3 675.5 663.7 677.0 658.8 678.5 648.6 680.0 642.6 681.5 634.2 683.0 625.4 684.5 617.6 686.0 607.7 687.5 600.2 689.0 591.9 690.5 580.1 692.0 568.8 693.5 558.8 695.0 548.6 696.5 539.5 698.0 527.3 699.5 516.5 701.0 501.1 702.5 486.9 704.0 471.7 705.5 456.2 707.0 442.3 708.5 422.5 710.0 399.7 711.5 371.6 713.0 342.8 714.5 318.4 716.0 291.4 717.5 260.0 719.0 241.6 720.5 225.3 722.0 212.1 723.5 202.3 725.0 194.3 726.5 187.3 728.0 181.9 729.5 177.6 731.0 174.4 732.5 173.2 734.0 178.7 735.5 185.0 737.0 197.6 738.5 216.9 740.0 242.4 741.5 266.2 743.0 286.5 744.5 316.4 746.0 359.0 747.5 383.4 749.0 407.9 750.5 435.8 752.0 456.2 753.5 475.6 755.0 496.3 756.5 516.4 758.0 536.2 759.5 556.9 761.0 573.5 762.5 589.3 764.0 607.5 765.5 626.0 767.0 639.3 768.5 650.3 770.0 659.0 771.5 665.7 773.0 674.0 774.5 681.0 776.0 687.5 777.5 693.0 779.0 699.7 780.5 705.6 782.0 711.0 783.5 715.4 785.0 721.4 786.5 725.1 788.0 730.3 789.5 735.4 791.0 738.0 792.5 741.6 794.0 745.7 795.5 747.7 797.0 750.5 798.5 753.4 800.0 756.2 801.5 756.3 803.0 759.2 804.5 761.1 806.0 762.9 807.5 764.8 809.0 766.4 810.5 768.7 812.0 769.3 813.5 771.3 815.0 772.6 816.5 773.0 818.0 774.6 819.5 776.5 821.0 776.7 822.5 777.0 824.0 778.2 825.5 778.5 827.0 780.1 828.5 781.2 830.0 780.9 831.5 782.0 833.0 783.6 834.5 783.3 836.0 784.4 837.5 784.4 839.0 785.2 840.5 786.0 842.0 788.3 843.5 787.3 845.0 787.8 846.5 788.3 848.0 789.1 849.5 790.0 851.0 790.2 852.5 791.7 854.0 790.9 855.5 792.0 857.0 791.6 858.5 792.2 860.0 791.2 861.5 792.3 863.0 792.6 864.5 792.8 866.0 791.9 867.5 794.0 869.0 793.5 870.5 793.7 872.0 794.0 873.5 794.3 875.0 794.9 876.5 794.2 878.0 794.6 879.5 795.6 881.0 795.8 882.5 795.7 884.0 795.8 885.5 796.0 887.0 796.7 888.5 797.7 890.0 796.6 891.5 798.4 893.0 798.3 894.5 797.8 896.0 798.8 897.5 797.7 899.0 797.8 900.5 798.3 902.0 799.1 903.5 799.4 905.0 799.6 906.5 800.2 908.0 799.1 909.5 801.0 911.0 800.1 912.5 800.8 914.0 801.2 915.5 801.0 917.0 801.1 918.5 801.6 920.0 802.4 921.5 803.0 923.0 803.2 924.5 802.5 926.0 802.9 927.5 803.0 929.0 804.1 930.5 802.8 932.0 805.0 933.5 804.1 935.0 804.2 936.5 805.0 938.0 805.6 939.5 805.4 941.0 806.0 942.5 805.6 944.0 806.4 945.5 806.6 947.0 806.0 948.5 807.0 950.0 806.4 951.5 806.5 953.0 806.0 954.5 806.5 956.0 807.3 957.5 806.2 959.0 807.5 960.5 807.4 962.0 807.5 963.5 806.1 965.0 807.5 966.5 808.0 968.0 807.3 969.5 807.9 971.0 806.5 972.5 808.5 974.0 807.8 975.5 808.8 977.0 807.3 978.5 808.9 980.0 808.4 981.5 809.1 983.0 808.2 984.5 808.5 986.0 810.3 987.5 808.5 989.0 808.7 990.5 809.0 992.0 808.7 993.5 810.1 995.0 810.5 996.5 809.1 998.0 808.6 999.5 810.4 1001.0 810.4 1002.5 810.3 1004.0 810.6 1005.5 809.5 1007.0 810.0 1008.5 809.3 1010.0 809.4 1011.5 810.9 1013.0 810.0 1014.5 811.9 1016.0 810.6 1017.5 810.3 1019.0 811.2 1020.5 811.9 1022.0 811.2 1023.5 810.3 1025.0 811.3 1026.5 812.0 1028.0 810.9 1029.5 810.8 1031.0 812.0 1032.5 811.6 1034.0 810.9 1035.5 811.4 1037.0 811.2 1038.5 812.0 1040.0 811.9 1041.5 812.6 1043.0 812.4 1044.5 811.1 1046.0 812.4 1047.5 812.8 1049.0 812.6 1050.5 813.0 1052.0 812.1 1053.5 811.9 1055.0 813.1 1056.5 812.0 1058.0 811.4 1059.5 813.4 1061.0 812.4 1062.5 812.8 1064.0 812.2 1065.5 812.3 1067.0 812.5 1068.5 813.0 1070.0 813.5 1071.5 812.0 1073.0 813.9 1074.5 812.8 1076.0 812.9 1077.5 814.0 1079.0 813.7 1080.5 812.9 1082.0 815.0 1083.5 813.4 1085.0 814.1 1086.5 814.2 1088.0 815.0 1089.5 813.9 1091.0 814.9 1092.5 813.9 1094.0 815.1 1095.5 814.0 1097.0 814.3 1098.5 815.8 1100.0 814.9 1101.5 814.9 1103.0 816.2 1104.5 815.2 1106.0 814.6 1107.5 815.6 1109.0 814.5 1110.5 816.0 1112.0 816.1 1113.5 815.2 1115.0 815.2 1116.5 815.8 1118.0 815.8 1119.5 815.3 1121.0 816.4 1122.5 814.9 1124.0 816.0 1125.5 816.1 1127.0 816.2 1128.5 816.7 1130.0 815.9 1131.5 817.1 1133.0 816.7 1134.5 816.5 1136.0 816.2 1137.5 816.4 1139.0 817.4 1140.5 816.7 1142.0 817.4 1143.5 818.1 1145.0 818.1 1146.5 818.5 1148.0 817.5 1149.5 817.1 1151.0 818.4 1152.5 818.1 1154.0 818.6 1155.5 818.0 1157.0 818.8 1158.5 818.6 1160.0 818.6 1161.5 818.5 1163.0 818.4 1164.5 818.4 1166.0 818.4 1167.5 818.9 1169.0 818.0 1170.5 819.3 1172.0 818.2 1173.5 818.9 1175.0 818.2 1176.5 818.1 1178.0 819.5 1179.5 818.1 1181.0 817.5 1182.5 817.9 1184.0 818.1 1185.5 819.6 1187.0 818.4 1188.5 818.8 1190.0 817.7 1191.5 818.5 1193.0 818.6 1194.5 819.3 1196.0 817.8 1197.5 818.6 1199.0 818.4 1200.5 817.6 1202.0 818.2 1203.5 818.0 1205.0 816.7 1206.5 818.5 1208.0 818.4 1209.5 817.8 1211.0 817.3 1212.5 818.9 1214.0 818.2 1215.5 818.6 1217.0 818.8 1218.5 817.7 1220.0 818.4 1221.5 817.8 1223.0 817.9 1224.5 817.8 1226.0 817.9 1227.5 818.5 1229.0 817.9 1230.5 817.7 1232.0 817.6 1233.5 817.9 1235.0 817.2 1236.5 817.4 1238.0 817.6 1239.5 817.3 1241.0 817.5 1242.5 817.2 1244.0 818.7 1245.5 818.3 1247.0 817.7 1248.5 817.3 1250.0 818.6 1251.5 817.4 1253.0 817.0 1254.5 817.1 1256.0 817.0 1257.5 817.5 1259.0 816.5 1260.5 817.5 1262.0 815.5 1263.5 816.3 1265.0 815.0 1266.5 816.5 1268.0 814.9 1269.5 814.8 1271.0 815.1 1272.5 815.0 1274.0 813.3 1275.5 813.4 1277.0 812.4 1278.5 813.0 1280.0 812.5 1281.5 812.0 1283.0 811.4 1284.5 811.1 1286.0 810.3 1287.5 810.4 1289.0 810.3 1290.5 807.4 1292.0 807.6 1293.5 806.4 1295.0 805.9 1296.5 803.8 1298.0 803.1 1299.5 800.9 1301.0 800.0 1302.5 797.4 1304.0 794.8 1305.5 792.5 1307.0 789.5 1308.5 786.2 1310.0 785.1 1311.5 782.6 1313.0 779.7 1314.5 777.7 1316.0 775.2 1317.5 771.2 1319.0 769.0 1320.5 768.4 1322.0 766.7 1323.5 764.4 1325.0 763.3 1326.5 762.9 1328.0 762.3 1329.5 761.0 1331.0 761.4 1332.5 760.3 1334.0 760.0 1335.5 761.2 1337.0 760.3 1338.5 761.2 1340.0 762.5 1341.5 763.7 1343.0 764.3 1344.5 765.9 1346.0 766.6 1347.5 769.3 1349.0 769.6 1350.5 769.3 1352.0 770.8 1353.5 772.1 1355.0 772.8 1356.5 774.3 1358.0 774.6 1359.5 774.0 1361.0 774.5 1362.5 773.8 1364.0 774.3 1365.5 773.3 1367.0 773.6 1368.5 770.5 1370.0 767.4 1371.5 766.3 1373.0 764.8 1374.5 761.2 1376.0 757.8 1377.5 753.9 1379.0 749.9 1380.5 745.5 1382.0 741.4 1383.5 738.3 1385.0 733.3 1386.5 729.4 1388.0 725.9 1389.5 724.6 1391.0 726.1 1392.5 727.8 1394.0 733.8 1395.5 740.2 1397.0 745.8 1398.5 751.8 1400.0 756.4 1401.5 764.0 1403.0 770.0 1404.5 775.2 1406.0 778.6 1407.5 781.9 1409.0 785.3 1410.5 787.7 1412.0 788.7 1413.5 790.8 1415.0 791.1 1416.5 792.6 1418.0 793.8 1419.5 795.0 1421.0 794.6 1422.5 796.7 1424.0 797.6 1425.5 796.6 1427.0 797.0 1428.5 798.5 1430.0 798.3 1431.5 797.7 1433.0 800.0 1434.5 799.9 1436.0 799.9 1437.5 801.7 1439.0 800.9 1440.5 800.6 1442.0 801.4 1443.5 801.0 1445.0 801.4 1446.5 802.4 1448.0 802.1 1449.5 802.4 1451.0 804.0 1452.5 803.8 1454.0 804.1 1455.5 804.2 1457.0 804.5 1458.5 805.4 1460.0 804.9 1461.5 806.3 1463.0 805.0 1464.5 805.7 1466.0 805.4 1467.5 806.3 1469.0 807.2 1470.5 808.0 1472.0 807.1 1473.5 807.8 1475.0 807.9 1476.5 807.9 1478.0 807.9 1479.5 809.0 1481.0 808.2 1482.5 809.5 1484.0 809.7 1485.5 809.5 1487.0 809.5 1488.5 809.5 1490.0 811.6 1491.5 809.9 1493.0 811.8 1494.5 811.4 1496.0 811.1 1497.5 810.8 1499.0 812.3 1500.5 812.9 1502.0 811.5 1503.5 812.1 1505.0 813.1 1506.5 812.8 1508.0 814.0 1509.5 812.6 1511.0 813.5 1512.5 812.6 1514.0 814.8 1515.5 813.2 1517.0 812.5 1518.5 813.9 1520.0 814.1 1521.5 815.4 1523.0 814.2 1524.5 814.6 1526.0 815.1 1527.5 815.8 1529.0 814.9 1530.5 815.7 1532.0 815.5 1533.5 815.1 1535.0 815.4 1536.5 815.5 1538.0 815.0 1539.5 816.4 1541.0 814.9 1542.5 816.5 1544.0 816.4 1545.5 815.8 1547.0 815.5 1548.5 815.8 1550.0 816.3 1551.5 816.5 1553.0 816.2 1554.5 816.7 1556.0 815.7 1557.5 816.2 1559.0 815.2 1560.5 816.6 1562.0 816.2 1563.5 815.9 1565.0 816.9 1566.5 816.6 1568.0 814.5 1569.5 816.2 1571.0 815.4 1572.5 816.9 1574.0 817.7 1575.5 815.9 1577.0 816.3 1578.5 816.1 1580.0 816.5 1581.5 816.7 1583.0 817.1 1584.5 815.7 1586.0 817.2 1587.5 815.7 1589.0 816.5 1590.5 817.0 1592.0 816.7 1593.5 815.7 1595.0 815.8 1596.5 815.9 1598.0 816.0 1599.5 816.6 1601.0 815.1 1602.5 816.0 1604.0 815.9 1605.5 815.7 1607.0 815.5 1608.5 816.0 1610.0 815.1 1611.5 815.2 1613.0 814.8 1614.5 815.3 1616.0 812.8 1617.5 814.5 1619.0 813.3 1620.5 813.0 1622.0 812.3 1623.5 811.3 1625.0 811.7 1626.5 810.9 1628.0 810.9 1629.5 809.0 1631.0 810.0 1632.5 808.5 1634.0 807.3 1635.5 806.2 1637.0 805.2 1638.5 803.7 1640.0 802.5 1641.5 801.1 1643.0 799.2 1644.5 796.7 1646.0 795.6 1647.5 793.7 1649.0 793.0 1650.5 793.0 1652.0 791.7 1653.5 791.1 1655.0 791.0 1656.5 792.7 1658.0 794.5 1659.5 798.3 1661.0 799.8 1662.5 802.6 1664.0 804.2 1665.5 806.0 1667.0 807.7 1668.5 807.2 1670.0 808.2 1671.5 808.6 1673.0 810.3 1674.5 809.7 1676.0 810.1 1677.5 810.2 1679.0 810.4 1680.5 811.6 1682.0 812.8 1683.5 810.5 1685.0 811.4 1686.5 810.7 1688.0 809.6 1689.5 809.7 1691.0 809.3 1692.5 808.6 1694.0 809.8 1695.5 807.0 1697.0 807.9 1698.5 807.5 1700.0 806.5 1701.5 806.6 1703.0 806.7 1704.5 805.9 1706.0 805.8 1707.5 805.8 1709.0 804.1 1710.5 806.2 1712.0 806.7 1713.5 806.0 1715.0 806.1 1716.5 804.7 1718.0 805.6 1719.5 805.4 1721.0 805.7 1722.5 806.8 1724.0 805.9 1725.5 806.5 1727.0 805.7 1728.5 807.0 1730.0 807.4 1731.5 807.2 1733.0 807.5 1734.5 809.6 1736.0 808.2 1737.5 808.9 1739.0 809.7 1740.5 811.5 1742.0 812.7 1743.5 812.3 1745.0 812.2 1746.5 813.0 1748.0 814.4 1749.5 813.6 1751.0 815.4 1752.5 815.7 1754.0 815.3 1755.5 816.0 1757.0 816.4 1758.5 817.2 1760.0 815.9 1761.5 817.6 1763.0 817.0 1764.5 817.0 1766.0 817.8 1767.5 817.9 1769.0 817.7 1770.5 817.6 1772.0 818.3 1773.5 820.0 1775.0 820.5 1776.5 820.0 1778.0 820.5 1779.5 819.7 1781.0 820.2 1782.5 820.6 1784.0 820.0 1785.5 820.2 1787.0 821.0 1788.5 821.0 1790.0 820.7 1791.5 821.7 1793.0 821.4 1794.5 822.3 1796.0 821.9 1797.5 821.8 1799.0 822.2 1800.5 822.2 1802.0 822.0 1803.5 822.3 1805.0 823.1 1806.5 823.2 1808.0 823.7 1809.5 822.0 1811.0 822.9 1812.5 823.0 1814.0 823.5 1815.5 823.2 1817.0 823.3 1818.5 824.2 1820.0 823.9 1821.5 823.2 1823.0 824.8 1824.5 824.7 1826.0 823.8 1827.5 824.8 1829.0 823.9 1830.5 825.1 1832.0 824.4 1833.5 824.1 1835.0 824.4 1836.5 824.3 1838.0 824.9 1839.5 825.0 1841.0 825.0 1842.5 824.7 1844.0 822.9 1845.5 825.2 1847.0 824.1 1848.5 825.4 1850.0 826.0 1851.5 825.5 1853.0 825.2 1854.5 825.3 1856.0 825.4 1857.5 825.2 1859.0 825.3 1860.5 825.1 1862.0 826.4 1863.5 825.8 1865.0 826.4 1866.5 825.7 1868.0 826.0 1869.5 825.9 1871.0 826.3 1872.5 826.6 1874.0 826.3 1875.5 825.8 1877.0 825.7 1878.5 827.2 1880.0 826.1 1881.5 826.2 1883.0 827.3 1884.5 827.1 1886.0 826.8 1887.5 826.3 1889.0 828.0 1890.5 826.8 1892.0 827.0 1893.5 826.6 1895.0 825.9 1896.5 825.9 1898.0 827.0 1899.5 827.1 1901.0 826.7 1902.5 826.2 1904.0 826.1 1905.5 826.8 1907.0 826.1 1908.5 827.5 1910.0 827.7 1911.5 828.8 1913.0 827.6 1914.5 826.8 1916.0 826.6 1917.5 825.1 1919.0 826.8 1920.5 827.1 1922.0 827.8 1923.5 827.6 1925.0 827.6 1926.5 827.4 1928.0 827.7 1929.5 828.1 1931.0 826.6 1932.5 827.0 1934.0 826.5 1935.5 828.3 1937.0 828.1" fill="none" stroke="#ff0000" stroke-width="3.5" stroke-linejoin="round"/>
<path d="M158.0 889.3 159.5 888.2 161.0 889.2 162.5 889.1 164.0 889.4 165.5 889.4 167.0 890.0 168.5 889.6 170.0 890.5 171.5 890.2 173.0 890.1 174.5 890.3 176.0 890.3 177.5 891.1 179.0 890.6 180.5 891.1 182.0 890.8 183.5 890.3 185.0 891.9 186.5 890.9 188.0 892.0 189.5 892.0 191.0 890.9 192.5 891.5 194.0 891.9 195.5 891.8 197.0 891.8 198.5 893.1 200.0 892.6 201.5 893.1 203.0 892.8 204.5 893.3 206.0 892.8 207.5 893.4 209.0 893.9 210.5 893.7 212.0 893.6 213.5 893.3 215.0 894.2 216.5 894.4 218.0 894.2 219.5 894.0 221.0 895.0 222.5 896.3 224.0 894.7 225.5 895.2 227.0 895.4 228.5 893.8 230.0 895.5 231.5 895.1 233.0 896.5 234.5 895.7 236.0 895.5 237.5 896.0 239.0 896.3 240.5 896.0 242.0 896.5 243.5 895.8 245.0 896.6 246.5 897.4 248.0 898.2 249.5 897.6 251.0 897.5 252.5 898.2 254.0 898.2 255.5 898.7 257.0 898.5 258.5 897.9 260.0 898.3 261.5 898.4 263.0 898.6 264.5 898.6 266.0 898.2 267.5 897.5 269.0 898.5 270.5 897.8 272.0 899.2 273.5 899.3 275.0 898.4 276.5 900.0 278.0 900.2 279.5 899.9 281.0 901.0 282.5 901.2 284.0 899.5 285.5 901.0 287.0 900.7 288.5 900.8 290.0 901.3 291.5 900.4 293.0 900.6 294.5 900.6 296.0 900.7 297.5 901.2 299.0 900.5 300.5 900.9 302.0 902.0 303.5 901.7 305.0 902.1 306.5 900.8 308.0 901.6 309.5 901.8 311.0 902.3 312.5 902.0 314.0 903.0 315.5 902.5 317.0 902.7 318.5 902.8 320.0 903.3 321.5 902.7 323.0 903.7 324.5 903.4 326.0 903.3 327.5 903.3 329.0 903.7 330.5 904.1 332.0 904.2 333.5 903.9 335.0 904.3 336.5 903.9 338.0 904.7 339.5 904.0 341.0 902.9 342.5 905.0 344.0 904.4 345.5 903.7 347.0 904.4 348.5 904.1 350.0 905.9 351.5 905.1 353.0 903.9 354.5 905.3 356.0 904.8 357.5 906.2 359.0 904.5 360.5 903.9 362.0 905.4 363.5 905.2 365.0 905.2 366.5 904.3 368.0 905.9 369.5 906.7 371.0 904.6 372.5 906.5 374.0 905.6 375.5 907.4 377.0 906.3 378.5 906.0 380.0 906.8 381.5 906.5 383.0 905.9 384.5 906.8 386.0 906.1 387.5 905.4 389.0 907.7 390.5 906.3 392.0 906.2 393.5 906.9 395.0 905.8 396.5 905.9 398.0 906.5 399.5 906.5 401.0 906.9 402.5 907.6 404.0 906.6 405.5 907.3 407.0 907.4 408.5 906.4 410.0 907.2 411.5 906.5 413.0 907.8 414.5 907.4 416.0 907.2 417.5 906.4 419.0 907.3 420.5 906.8 422.0 907.7 423.5 907.2 425.0 906.9 426.5 907.9 428.0 907.8 429.5 907.1 431.0 908.1 432.5 907.3 434.0 907.3 435.5 907.6 437.0 907.1 438.5 907.3 440.0 907.5 441.5 908.5 443.0 908.5 444.5 907.5 446.0 908.6 447.5 907.7 449.0 907.9 450.5 908.3 452.0 907.9 453.5 909.2 455.0 907.9 456.5 907.1 458.0 908.6 459.5 907.6 461.0 907.7 462.5 906.1 464.0 908.5 465.5 908.4 467.0 908.4 468.5 908.6 470.0 909.0 471.5 908.0 473.0 908.6 474.5 907.6 476.0 907.9 477.5 908.8 479.0 908.4 480.5 907.4 482.0 908.4 483.5 908.1 485.0 907.8 486.5 908.5 488.0 908.1 489.5 907.4 491.0 907.7 492.5 909.5 494.0 907.5 495.5 908.6 497.0 908.9 498.5 908.9 500.0 907.8 501.5 908.4 503.0 908.7 504.5 909.2 506.0 908.3 507.5 908.1 509.0 909.4 510.5 909.5 512.0 909.1 513.5 908.5 515.0 909.2 516.5 909.0 518.0 909.5 519.5 908.3 521.0 909.1 522.5 909.0 524.0 908.4 525.5 909.3 527.0 909.2 528.5 908.9 530.0 909.5 531.5 908.4 533.0 909.2 534.5 909.5 536.0 909.5 537.5 910.0 539.0 908.6 540.5 908.5 542.0 909.5 543.5 909.7 545.0 910.7 546.5 909.8 548.0 908.9 549.5 909.9 551.0 908.9 552.5 908.5 554.0 911.0 555.5 909.6 557.0 909.8 558.5 909.7 560.0 910.4 561.5 909.5 563.0 910.0 564.5 908.6 566.0 908.4 567.5 910.0 569.0 910.0 570.5 909.4 572.0 909.2 573.5 909.1 575.0 908.5 576.5 909.8 578.0 909.2 579.5 909.1 581.0 909.0 582.5 909.3 584.0 908.9 585.5 909.0 587.0 907.8 588.5 908.8 590.0 909.7 591.5 908.0 593.0 908.2 594.5 908.8 596.0 908.7 597.5 908.5 599.0 907.1 600.5 908.3 602.0 907.2 603.5 907.4 605.0 908.1 606.5 907.5 608.0 908.1 609.5 909.5 611.0 908.0 612.5 907.9 614.0 906.8 615.5 906.9 617.0 906.6 618.5 906.8 620.0 906.4 621.5 906.5 623.0 906.7 624.5 906.1 626.0 905.8 627.5 905.7 629.0 906.7 630.5 906.3 632.0 906.8 633.5 906.6 635.0 905.7 636.5 906.1 638.0 904.7 639.5 906.8 641.0 906.0 642.5 905.0 644.0 904.2 645.5 905.0 647.0 903.4 648.5 903.8 650.0 904.4 651.5 903.8 653.0 903.1 654.5 903.7 656.0 902.2 657.5 902.6 659.0 901.8 660.5 901.2 662.0 901.5 663.5 900.2 665.0 901.5 666.5 899.5 668.0 900.4 669.5 897.8 671.0 898.0 672.5 896.1 674.0 895.1 675.5 895.1 677.0 894.4 678.5 892.2 680.0 892.7 681.5 890.5 683.0 890.1 684.5 889.3 686.0 888.4 687.5 886.1 689.0 887.1 690.5 885.5 692.0 883.9 693.5 882.4 695.0 880.8 696.5 879.8 698.0 879.6 699.5 877.6 701.0 875.4 702.5 873.9 704.0 873.1 705.5 869.7 707.0 867.3 708.5 866.2 710.0 863.2 711.5 860.4 713.0 857.3 714.5 854.1 716.0 851.6 717.5 849.2 719.0 846.3 720.5 843.6 722.0 840.9 723.5 838.6 725.0 837.1 726.5 834.9 728.0 832.8 729.5 832.8 731.0 831.8 732.5 831.8 734.0 832.3 735.5 832.2 737.0 833.0 738.5 834.5 740.0 836.3 741.5 838.5 743.0 842.4 744.5 845.4 746.0 848.4 747.5 853.2 749.0 858.4 750.5 860.6 752.0 864.9 753.5 868.0 755.0 870.8 756.5 871.9 758.0 876.1 759.5 877.3 761.0 879.4 762.5 881.5 764.0 884.1 765.5 885.8 767.0 887.5 768.5 890.2 770.0 890.7 771.5 892.2 773.0 894.9 774.5 896.1 776.0 897.2 777.5 896.6 779.0 898.6 780.5 898.8 782.0 900.1 783.5 898.8 785.0 900.0 786.5 900.1 788.0 899.6 789.5 900.4 791.0 901.8 792.5 901.0 794.0 901.1 795.5 902.3 797.0 902.5 798.5 902.7 800.0 901.8 801.5 902.4 803.0 903.3 804.5 902.4 806.0 902.5 807.5 903.6 809.0 904.1 810.5 902.6 812.0 901.9 813.5 902.7 815.0 903.1 816.5 903.8 818.0 904.3 819.5 904.0 821.0 903.7 822.5 904.4 824.0 903.8 825.5 904.4 827.0 904.2 828.5 906.3 830.0 905.2 831.5 904.3 833.0 904.3 834.5 904.8 836.0 904.1 837.5 904.8 839.0 904.9 840.5 906.0 842.0 905.3 843.5 905.2 845.0 905.0 846.5 905.2 848.0 906.0 849.5 906.0 851.0 906.9 852.5 906.0 854.0 907.1 855.5 906.7 857.0 906.7 858.5 905.6 860.0 906.2 861.5 907.5 863.0 908.0 864.5 907.4 866.0 907.9 867.5 907.3 869.0 907.5 870.5 907.4 872.0 908.5 873.5 908.2 875.0 908.0 876.5 908.1 878.0 908.7 879.5 908.7 881.0 908.1 882.5 909.8 884.0 909.0 885.5 909.0 887.0 910.0 888.5 909.8 890.0 909.3 891.5 909.7 893.0 908.9 894.5 909.3 896.0 908.4 897.5 910.6 899.0 908.8 900.5 910.5 902.0 909.7 903.5 909.7 905.0 910.3 906.5 910.7 908.0 911.0 909.5 911.8 911.0 911.1 912.5 911.5 914.0 910.7 915.5 911.6 917.0 911.4 918.5 911.1 920.0 911.5 921.5 911.6 923.0 911.8 924.5 912.1 926.0 911.6 927.5 911.6 929.0 912.6 930.5 911.2 932.0 912.0 933.5 913.4 935.0 910.9 936.5 912.2 938.0 913.2 939.5 911.9 941.0 914.5 942.5 911.5 944.0 914.0 945.5 914.2 947.0 913.9 948.5 913.3 950.0 913.7 951.5 913.1 953.0 914.2 954.5 913.1 956.0 913.7 957.5 914.5 959.0 913.4 960.5 913.9 962.0 914.3 963.5 913.5 965.0 915.1 966.5 914.6 968.0 913.6 969.5 914.6 971.0 914.2 972.5 914.4 974.0 914.9 975.5 914.5 977.0 915.6 978.5 914.6 980.0 915.7 981.5 915.2 983.0 915.8 984.5 915.0 986.0 915.1 987.5 914.8 989.0 915.9 990.5 916.2 992.0 917.0 993.5 916.6 995.0 916.0 996.5 915.8 998.0 916.3 999.5 916.1 1001.0 917.1 1002.5 916.8 1004.0 915.8 1005.5 916.0 1007.0 917.3 1008.5 916.7 1010.0 916.5 1011.5 917.4 1013.0 916.5 1014.5 916.7 1016.0 916.6 1017.5 915.8 1019.0 917.6 1020.5 916.4 1022.0 916.8 1023.5 916.8 1025.0 917.8 1026.5 917.4 1028.0 917.5 1029.5 916.6 1031.0 917.6 1032.5 916.8 1034.0 918.0 1035.5 918.1 1037.0 917.9 1038.5 919.2 1040.0 918.4 1041.5 918.5 1043.0 918.3 1044.5 918.2 1046.0 919.0 1047.5 919.2 1049.0 917.8 1050.5 919.3 1052.0 919.1 1053.5 919.4 1055.0 919.2 1056.5 918.3 1058.0 918.4 1059.5 920.3 1061.0 919.4 1062.5 918.5 1064.0 919.7 1065.5 919.3 1067.0 918.6 1068.5 918.4 1070.0 918.9 1071.5 920.1 1073.0 920.0 1074.5 920.0 1076.0 920.5 1077.5 920.8 1079.0 919.2 1080.5 920.4 1082.0 920.2 1083.5 920.1 1085.0 920.6 1086.5 921.0 1088.0 921.0 1089.5 920.4 1091.0 921.1 1092.5 922.7 1094.0 921.0 1095.5 920.7 1097.0 922.0 1098.5 922.3 1100.0 922.3 1101.5 921.5 1103.0 922.9 1104.5 921.9 1106.0 921.8 1107.5 922.2 1109.0 922.6 1110.5 923.2 1112.0 923.3 1113.5 923.0 1115.0 923.7 1116.5 923.3 1118.0 923.8 1119.5 922.6 1121.0 922.6 1122.5 924.1 1124.0 922.9 1125.5 923.6 1127.0 923.8 1128.5 923.7 1130.0 923.8 1131.5 925.0 1133.0 922.7 1134.5 924.8 1136.0 925.8 1137.5 924.5 1139.0 924.5 1140.5 925.0 1142.0 925.8 1143.5 924.0 1145.0 924.9 1146.5 924.8 1148.0 925.3 1149.5 925.1 1151.0 925.4 1152.5 924.8 1154.0 925.2 1155.5 924.8 1157.0 924.8 1158.5 925.2 1160.0 925.2 1161.5 924.6 1163.0 926.3 1164.5 925.3 1166.0 924.6 1167.5 926.1 1169.0 925.1 1170.5 925.9 1172.0 925.6 1173.5 925.8 1175.0 925.8 1176.5 925.3 1178.0 925.8 1179.5 927.0 1181.0 924.5 1182.5 925.9 1184.0 926.1 1185.5 925.3 1187.0 925.1 1188.5 927.3 1190.0 925.8 1191.5 927.3 1193.0 926.4 1194.5 926.1 1196.0 926.4 1197.5 926.5 1199.0 926.9 1200.5 926.5 1202.0 926.3 1203.5 926.3 1205.0 927.1 1206.5 926.8 1208.0 925.7 1209.5 925.9 1211.0 926.5 1212.5 926.0 1214.0 926.2 1215.5 925.8 1217.0 926.3 1218.5 926.7 1220.0 927.0 1221.5 926.5 1223.0 927.7 1224.5 926.4 1226.0 928.4 1227.5 927.1 1229.0 926.8 1230.5 926.2 1232.0 924.8 1233.5 926.4 1235.0 926.6 1236.5 927.7 1238.0 925.7 1239.5 927.6 1241.0 926.3 1242.5 926.9 1244.0 924.9 1245.5 926.5 1247.0 926.2 1248.5 926.8 1250.0 926.4 1251.5 925.7 1253.0 926.9 1254.5 926.7 1256.0 926.6 1257.5 926.8 1259.0 926.8 1260.5 926.1 1262.0 925.3 1263.5 925.2 1265.0 926.8 1266.5 926.4 1268.0 926.0 1269.5 925.6 1271.0 925.8 1272.5 925.8 1274.0 925.5 1275.5 925.2 1277.0 926.9 1278.5 925.7 1280.0 925.1 1281.5 924.6 1283.0 924.9 1284.5 925.7 1286.0 925.7 1287.5 925.0 1289.0 925.0 1290.5 924.6 1292.0 923.9 1293.5 925.1 1295.0 924.3 1296.5 925.2 1298.0 923.0 1299.5 923.1 1301.0 923.4 1302.5 922.4 1304.0 921.5 1305.5 921.5 1307.0 921.9 1308.5 921.8 1310.0 921.4 1311.5 921.9 1313.0 921.8 1314.5 921.3 1316.0 921.1 1317.5 920.8 1319.0 921.2 1320.5 921.4 1322.0 920.8 1323.5 921.0 1325.0 920.4 1326.5 919.7 1328.0 919.9 1329.5 920.9 1331.0 920.6 1332.5 921.3 1334.0 920.3 1335.5 920.7 1337.0 921.0 1338.5 920.7 1340.0 919.7 1341.5 920.0 1343.0 920.1 1344.5 919.4 1346.0 920.3 1347.5 920.6 1349.0 919.7 1350.5 921.2 1352.0 919.8 1353.5 919.9 1355.0 919.9 1356.5 919.6 1358.0 920.3 1359.5 920.0 1361.0 921.0 1362.5 920.4 1364.0 920.3 1365.5 919.9 1367.0 919.2 1368.5 919.9 1370.0 919.5 1371.5 920.6 1373.0 920.0 1374.5 921.0 1376.0 920.4 1377.5 920.2 1379.0 919.3 1380.5 918.4 1382.0 917.7 1383.5 916.9 1385.0 914.8 1386.5 913.9 1388.0 913.5 1389.5 910.4 1391.0 909.6 1392.5 909.9 1394.0 911.3 1395.5 915.4 1397.0 917.0 1398.5 918.6 1400.0 920.6 1401.5 922.1 1403.0 921.0 1404.5 923.1 1406.0 923.5 1407.5 923.9 1409.0 924.3 1410.5 924.1 1412.0 925.1 1413.5 924.6 1415.0 924.6 1416.5 925.2 1418.0 925.1 1419.5 924.9 1421.0 924.9 1422.5 925.8 1424.0 925.1 1425.5 924.8 1427.0 924.4 1428.5 924.8 1430.0 924.4 1431.5 925.1 1433.0 925.3 1434.5 923.9 1436.0 925.2 1437.5 925.6 1439.0 925.4 1440.5 924.7 1442.0 926.1 1443.5 924.9 1445.0 924.6 1446.5 924.8 1448.0 925.4 1449.5 926.1 1451.0 926.2 1452.5 925.6 1454.0 924.8 1455.5 925.2 1457.0 925.0 1458.5 925.5 1460.0 924.6 1461.5 925.7 1463.0 926.1 1464.5 925.6 1466.0 926.0 1467.5 925.2 1469.0 924.9 1470.5 925.4 1472.0 926.5 1473.5 926.5 1475.0 925.6 1476.5 926.7 1478.0 925.8 1479.5 926.9 1481.0 926.3 1482.5 925.8 1484.0 926.6 1485.5 925.7 1487.0 925.7 1488.5 925.4 1490.0 926.5 1491.5 926.3 1493.0 926.4 1494.5 926.2 1496.0 927.4 1497.5 926.3 1499.0 926.2 1500.5 927.4 1502.0 927.6 1503.5 927.0 1505.0 925.8 1506.5 926.5 1508.0 927.3 1509.5 927.0 1511.0 927.9 1512.5 926.2 1514.0 927.5 1515.5 926.8 1517.0 928.0 1518.5 927.2 1520.0 927.9 1521.5 927.0 1523.0 926.6 1524.5 926.8 1526.0 927.1 1527.5 926.9 1529.0 928.3 1530.5 928.4 1532.0 927.8 1533.5 927.1 1535.0 927.7 1536.5 927.4 1538.0 928.7 1539.5 928.1 1541.0 928.2 1542.5 927.7 1544.0 926.8 1545.5 927.6 1547.0 927.4 1548.5 928.4 1550.0 928.2 1551.5 927.7 1553.0 928.0 1554.5 929.2 1556.0 927.7 1557.5 927.8 1559.0 928.2 1560.5 928.0 1562.0 928.2 1563.5 928.8 1565.0 929.5 1566.5 927.4 1568.0 928.5 1569.5 928.5 1571.0 928.5 1572.5 928.4 1574.0 928.4 1575.5 929.2 1577.0 928.3 1578.5 928.5 1580.0 928.6 1581.5 928.7 1583.0 928.5 1584.5 929.2 1586.0 928.6 1587.5 928.7 1589.0 928.5 1590.5 927.9 1592.0 927.9 1593.5 927.8 1595.0 928.4 1596.5 927.8 1598.0 927.5 1599.5 928.3 1601.0 928.3 1602.5 926.9 1604.0 928.9 1605.5 927.8 1607.0 927.6 1608.5 928.2 1610.0 927.5 1611.5 927.0 1613.0 928.6 1614.5 926.5 1616.0 927.0 1617.5 927.5 1619.0 926.2 1620.5 926.7 1622.0 926.9 1623.5 928.0 1625.0 925.9 1626.5 926.3 1628.0 926.7 1629.5 926.2 1631.0 925.4 1632.5 926.3 1634.0 926.0 1635.5 926.1 1637.0 926.5 1638.5 926.3 1640.0 925.9 1641.5 925.8 1643.0 924.9 1644.5 925.5 1646.0 925.7 1647.5 925.3 1649.0 925.6 1650.5 925.0 1652.0 926.4 1653.5 926.9 1655.0 925.4 1656.5 925.9 1658.0 925.7 1659.5 926.7 1661.0 926.3 1662.5 926.2 1664.0 926.1 1665.5 926.5 1667.0 925.9 1668.5 927.1 1670.0 926.4 1671.5 927.3 1673.0 927.2 1674.5 927.9 1676.0 927.3 1677.5 928.1 1679.0 927.0 1680.5 928.0 1682.0 927.6 1683.5 927.9 1685.0 927.8 1686.5 928.4 1688.0 926.6 1689.5 928.0 1691.0 926.9 1692.5 928.6 1694.0 926.7 1695.5 927.2 1697.0 926.9 1698.5 928.8 1700.0 927.1 1701.5 927.9 1703.0 927.6 1704.5 926.8 1706.0 927.7 1707.5 928.3 1709.0 927.8 1710.5 928.5 1712.0 927.7 1713.5 927.9 1715.0 927.7 1716.5 928.1 1718.0 929.1 1719.5 928.1 1721.0 928.0 1722.5 927.6 1724.0 927.5 1725.5 928.8 1727.0 927.3 1728.5 927.4 1730.0 927.9 1731.5 927.7 1733.0 929.1 1734.5 926.5 1736.0 928.2 1737.5 928.4 1739.0 927.3 1740.5 927.6 1742.0 928.2 1743.5 929.0 1745.0 927.4 1746.5 927.0 1748.0 928.6 1749.5 928.9 1751.0 927.8 1752.5 926.7 1754.0 928.9 1755.5 927.9 1757.0 928.7 1758.5 928.0 1760.0 927.8 1761.5 927.8 1763.0 929.0 1764.5 928.9 1766.0 926.8 1767.5 927.6 1769.0 929.2 1770.5 927.9 1772.0 927.3 1773.5 928.2 1775.0 928.1 1776.5 928.1 1778.0 927.9 1779.5 928.0 1781.0 928.0 1782.5 928.5 1784.0 927.8 1785.5 928.1 1787.0 928.2 1788.5 929.1 1790.0 928.6 1791.5 928.3 1793.0 928.7 1794.5 928.6 1796.0 929.1 1797.5 928.7 1799.0 929.5 1800.5 929.3 1802.0 928.5 1803.5 928.3 1805.0 929.1 1806.5 928.9 1808.0 928.5 1809.5 927.7 1811.0 927.5 1812.5 928.9 1814.0 929.1 1815.5 929.2 1817.0 927.9 1818.5 929.4 1820.0 928.4 1821.5 929.0 1823.0 929.1 1824.5 928.4 1826.0 928.5 1827.5 927.7 1829.0 928.4 1830.5 927.9 1832.0 929.2 1833.5 929.0 1835.0 929.6 1836.5 929.3 1838.0 928.7 1839.5 929.3 1841.0 928.9 1842.5 929.5 1844.0 929.4 1845.5 928.6 1847.0 929.3 1848.5 929.3 1850.0 929.2 1851.5 929.9 1853.0 930.4 1854.5 929.2 1856.0 929.3 1857.5 928.1 1859.0 929.5 1860.5 929.3 1862.0 928.3 1863.5 929.8 1865.0 930.0 1866.5 929.3 1868.0 929.5 1869.5 929.2 1871.0 930.3 1872.5 928.9 1874.0 929.7 1875.5 931.1 1877.0 930.0 1878.5 930.3 1880.0 929.9 1881.5 929.4 1883.0 930.1 1884.5 930.4 1886.0 929.6 1887.5 930.4 1889.0 931.0 1890.5 930.9 1892.0 929.4 1893.5 929.8 1895.0 929.5 1896.5 931.1 1898.0 930.9 1899.5 931.0 1901.0 930.1 1902.5 929.9 1904.0 930.7 1905.5 930.8 1907.0 930.2 1908.5 930.9 1910.0 931.2 1911.5 931.0 1913.0 930.3 1914.5 929.7 1916.0 930.9 1917.5 931.2 1919.0 931.0 1920.5 930.9 1922.0 930.8 1923.5 931.7 1925.0 931.3 1926.5 931.4 1928.0 930.8 1929.5 931.1 1931.0 931.6 1932.5 930.9 1934.0 930.8 1935.5 931.4 1937.0 932.4" fill="none" stroke="#0000ff" stroke-width="3.5" stroke-linejoin="round"/>
<path d="M158.0 984.4 159.5 985.3 161.0 984.4 162.5 984.4 164.0 983.9 165.5 984.5 167.0 985.8 168.5 985.2 170.0 985.6 171.5 985.7 173.0 985.4 174.5 985.4 176.0 985.7 177.5 986.1 179.0 986.1 180.5 986.2 182.0 986.1 183.5 985.7 185.0 986.1 186.5 985.8 188.0 987.1 189.5 985.3 191.0 986.6 192.5 988.2 194.0 986.7 195.5 986.3 197.0 987.1 198.5 988.0 200.0 987.3 201.5 987.8 203.0 987.6 204.5 987.5 206.0 989.7 207.5 988.0 209.0 987.7 210.5 987.9 212.0 988.5 213.5 988.6 215.0 989.0 216.5 988.7 218.0 987.9 219.5 989.2 221.0 988.8 222.5 988.9 224.0 988.3 225.5 989.0 227.0 989.0 228.5 989.5 230.0 988.8 231.5 989.8 233.0 990.0 234.5 989.3 236.0 989.8 237.5 989.7 239.0 990.9 240.5 989.0 242.0 990.4 243.5 989.8 245.0 990.7 246.5 991.6 248.0 990.8 249.5 991.4 251.0 990.9 252.5 992.8 254.0 992.3 255.5 992.5 257.0 991.2 258.5 991.5 260.0 992.9 261.5 992.3 263.0 992.4 264.5 992.9 266.0 992.1 267.5 993.5 269.0 993.2 270.5 993.6 272.0 993.0 273.5 993.9 275.0 993.3 276.5 994.4 278.0 994.7 279.5 994.7 281.0 994.6 282.5 994.8 284.0 992.9 285.5 995.2 287.0 994.6 288.5 995.0 290.0 994.9 291.5 994.3 293.0 995.0 294.5 995.8 296.0 996.4 297.5 995.3 299.0 995.2 300.5 996.7 302.0 995.4 303.5 997.3 305.0 996.2 306.5 995.7 308.0 997.0 309.5 997.5 311.0 995.7 312.5 997.6 314.0 996.5 315.5 997.7 317.0 996.6 318.5 996.0 320.0 997.3 321.5 997.6 323.0 998.4 324.5 998.2 326.0 997.7 327.5 997.2 329.0 997.1 330.5 997.3 332.0 997.1 333.5 997.5 335.0 996.2 336.5 997.9 338.0 997.8 339.5 999.5 341.0 998.5 342.5 997.8 344.0 998.5 345.5 997.5 347.0 997.9 348.5 997.2 350.0 999.3 351.5 998.8 353.0 997.8 354.5 998.5 356.0 999.2 357.5 999.0 359.0 999.0 360.5 998.3 362.0 998.5 363.5 999.0 365.0 999.5 366.5 998.5 368.0 998.4 369.5 999.8 371.0 998.6 372.5 999.8 374.0 999.4 375.5 999.8 377.0 1000.4 378.5 999.8 380.0 999.9 381.5 998.9 383.0 999.0 384.5 999.9 386.0 1000.4 387.5 1000.4 389.0 1000.9 390.5 999.7 392.0 999.7 393.5 1000.2 395.0 999.6 396.5 999.6 398.0 999.0 399.5 1000.2 401.0 999.0 402.5 999.9 404.0 998.7 405.5 1000.3 407.0 999.0 408.5 1000.1 410.0 998.6 411.5 999.3 413.0 1000.3 414.5 999.1 416.0 999.6 417.5 999.3 419.0 998.2 420.5 999.8 422.0 999.9 423.5 998.9 425.0 999.9 426.5 999.1 428.0 999.0 429.5 999.6 431.0 999.2 432.5 1001.0 434.0 998.7 435.5 1000.0 437.0 1000.2 438.5 998.4 440.0 998.6 441.5 999.9 443.0 999.3 444.5 999.8 446.0 1000.3 447.5 999.4 449.0 999.0 450.5 998.0 452.0 999.7 453.5 999.0 455.0 999.8 456.5 999.7 458.0 998.8 459.5 1000.6 461.0 1000.2 462.5 1000.1 464.0 998.9 465.5 999.4 467.0 999.3 468.5 999.4 470.0 998.9 471.5 999.9 473.0 999.7 474.5 999.8 476.0 999.3 477.5 1000.4 479.0 999.7 480.5 998.0 482.0 999.2 483.5 999.6 485.0 1000.2 486.5 999.4 488.0 999.5 489.5 999.2 491.0 1000.0 492.5 999.4 494.0 999.3 495.5 999.2 497.0 1000.0 498.5 999.3 500.0 998.7 501.5 1000.1 503.0 999.3 504.5 999.9 506.0 999.9 507.5 1000.4 509.0 1000.4 510.5 999.4 512.0 999.7 513.5 999.0 515.0 1000.8 516.5 1000.1 518.0 1000.7 519.5 999.6 521.0 998.6 522.5 1000.8 524.0 999.9 525.5 1000.0 527.0 999.9 528.5 1000.3 530.0 1000.2 531.5 999.0 533.0 1000.6 534.5 999.6 536.0 999.7 537.5 1001.0 539.0 1000.5 540.5 999.8 542.0 998.9 543.5 1000.1 545.0 1000.3 546.5 999.9 548.0 999.3 549.5 999.5 551.0 999.2 552.5 1000.1 554.0 1000.5 555.5 1000.6 557.0 999.5 558.5 1000.1 560.0 1000.3 561.5 999.6 563.0 999.8 564.5 1001.2 566.0 1000.0 567.5 1000.4 569.0 999.6 570.5 999.8 572.0 998.7 573.5 999.7 575.0 1000.4 576.5 1000.9 578.0 1000.4 579.5 1000.0 581.0 999.6 582.5 999.2 584.0 999.4 585.5 999.8 587.0 998.9 588.5 999.9 590.0 998.7 591.5 998.2 593.0 998.6 594.5 998.2 596.0 998.3 597.5 999.8 599.0 998.9 600.5 999.1 602.0 999.6 603.5 999.6 605.0 998.5 606.5 999.5 608.0 998.9 609.5 998.6 611.0 998.8 612.5 997.5 614.0 997.8 615.5 998.1 617.0 998.5 618.5 997.8 620.0 997.8 621.5 998.3 623.0 998.5 624.5 997.9 626.0 998.1 627.5 997.0 629.0 996.9 630.5 997.1 632.0 996.6 633.5 996.3 635.0 997.4 636.5 996.1 638.0 995.5 639.5 996.2 641.0 996.8 642.5 995.5 644.0 995.9 645.5 994.6 647.0 994.3 648.5 993.9 650.0 993.8 651.5 994.7 653.0 992.5 654.5 993.7 656.0 991.7 657.5 991.8 659.0 992.0 660.5 991.4 662.0 990.7 663.5 989.1 665.0 989.8 666.5 988.5 668.0 990.1 669.5 987.9 671.0 987.6 672.5 986.2 674.0 986.0 675.5 984.8 677.0 985.6 678.5 984.1 680.0 983.9 681.5 982.4 683.0 981.8 684.5 982.0 686.0 979.9 687.5 978.5 689.0 979.0 690.5 977.1 692.0 976.5 693.5 976.3 695.0 974.1 696.5 973.9 698.0 971.7 699.5 971.6 701.0 970.1 702.5 967.6 704.0 966.2 705.5 964.1 707.0 962.8 708.5 961.4 710.0 957.7 711.5 956.8 713.0 953.2 714.5 951.2 716.0 947.8 717.5 947.2 719.0 943.3 720.5 941.3 722.0 939.5 723.5 939.5 725.0 936.6 726.5 937.2 728.0 938.2 729.5 936.7 731.0 937.5 732.5 938.9 734.0 939.3 735.5 941.3 737.0 943.4 738.5 944.6 740.0 946.9 741.5 949.0 743.0 952.0 744.5 954.5 746.0 957.7 747.5 959.5 749.0 961.2 750.5 962.2 752.0 966.4 753.5 968.5 755.0 969.5 756.5 970.7 758.0 972.9 759.5 975.8 761.0 976.2 762.5 978.1 764.0 979.9 765.5 981.8 767.0 982.2 768.5 983.1 770.0 983.6 771.5 985.6 773.0 985.9 774.5 985.9 776.0 985.7 777.5 986.6 779.0 987.9 780.5 987.6 782.0 989.0 783.5 989.1 785.0 989.4 786.5 989.9 788.0 990.0 789.5 989.5 791.0 990.0 792.5 991.8 794.0 989.9 795.5 990.5 797.0 991.6 798.5 991.0 800.0 990.8 801.5 990.6 803.0 991.8 804.5 992.3 806.0 992.6 807.5 991.9 809.0 992.6 810.5 991.5 812.0 992.3 813.5 991.9 815.0 992.5 816.5 992.9 818.0 993.2 819.5 992.0 821.0 993.4 822.5 992.4 824.0 992.2 825.5 992.7 827.0 992.0 828.5 993.0 830.0 993.2 831.5 993.0 833.0 993.5 834.5 993.0 836.0 993.2 837.5 992.4 839.0 993.4 840.5 992.9 842.0 993.2 843.5 993.5 845.0 993.7 846.5 992.7 848.0 992.8 849.5 993.6 851.0 994.1 852.5 994.1 854.0 994.4 855.5 994.7 857.0 994.3 858.5 994.0 860.0 993.5 861.5 993.6 863.0 993.9 864.5 994.4 866.0 994.4 867.5 994.4 869.0 994.3 870.5 994.8 872.0 994.6 873.5 994.7 875.0 994.8 876.5 994.3 878.0 994.1 879.5 995.0 881.0 995.0 882.5 994.7 884.0 994.6 885.5 996.3 887.0 994.5 888.5 994.9 890.0 995.3 891.5 994.5 893.0 995.3 894.5 996.4 896.0 995.9 897.5 995.8 899.0 995.8 900.5 995.6 902.0 996.2 903.5 995.6 905.0 995.5 906.5 995.8 908.0 996.4 909.5 996.1 911.0 996.4 912.5 994.9 914.0 996.9 915.5 997.6 917.0 997.1 918.5 996.2 920.0 995.9 921.5 996.7 923.0 996.0 924.5 997.1 926.0 996.4 927.5 997.4 929.0 997.7 930.5 995.8 932.0 997.3 933.5 996.7 935.0 996.4 936.5 996.9 938.0 997.3 939.5 998.1 941.0 996.6 942.5 998.3 944.0 998.9 945.5 998.1 947.0 998.2 948.5 997.9 950.0 997.3 951.5 998.4 953.0 998.4 954.5 998.7 956.0 999.8 957.5 998.8 959.0 998.7 960.5 999.4 962.0 997.8 963.5 998.0 965.0 998.5 966.5 998.4 968.0 999.3 969.5 998.7 971.0 1000.0 972.5 1000.0 974.0 999.6 975.5 999.0 977.0 999.6 978.5 999.8 980.0 998.7 981.5 999.7 983.0 999.9 984.5 999.7 986.0 1000.6 987.5 1000.5 989.0 999.3 990.5 999.9 992.0 999.4 993.5 1000.3 995.0 999.5 996.5 1000.7 998.0 1000.4 999.5 1000.8 1001.0 1000.2 1002.5 999.5 1004.0 1001.5 1005.5 1000.4 1007.0 1001.4 1008.5 1000.9 1010.0 1001.1 1011.5 1001.9 1013.0 1001.1 1014.5 1001.8 1016.0 1000.1 1017.5 1001.6 1019.0 1001.0 1020.5 1001.1 1022.0 1001.3 1023.5 1001.5 1025.0 1002.4 1026.5 1000.4 1028.0 1001.6 1029.5 1001.2 1031.0 1002.4 1032.5 1001.5 1034.0 1002.1 1035.5 1001.6 1037.0 1002.3 1038.5 1002.6 1040.0 1001.8 1041.5 1002.2 1043.0 1001.4 1044.5 1002.5 1046.0 1002.9 1047.5 1002.1 1049.0 1003.2 1050.5 1001.3 1052.0 1001.5 1053.5 1001.9 1055.0 1002.5 1056.5 1002.9 1058.0 1002.9 1059.5 1003.0 1061.0 1003.5 1062.5 1002.9 1064.0 1002.5 1065.5 1002.6 1067.0 1004.7 1068.5 1002.1 1070.0 1003.5 1071.5 1004.6 1073.0 1004.1 1074.5 1003.4 1076.0 1003.9 1077.5 1004.6 1079.0 1004.8 1080.5 1003.7 1082.0 1004.8 1083.5 1004.5 1085.0 1005.1 1086.5 1005.4 1088.0 1004.5 1089.5 1003.9 1091.0 1005.1 1092.5 1006.0 1094.0 1005.4 1095.5 1005.3 1097.0 1006.6 1098.5 1004.7 1100.0 1005.9 1101.5 1005.1 1103.0 1005.6 1104.5 1005.7 1106.0 1006.7 1107.5 1005.3 1109.0 1005.6 1110.5 1005.0 1112.0 1006.4 1113.5 1005.9 1115.0 1006.5 1116.5 1005.7 1118.0 1006.2 1119.5 1007.1 1121.0 1006.5 1122.5 1007.0 1124.0 1007.1 1125.5 1006.6 1127.0 1006.0 1128.5 1007.6 1130.0 1007.1 1131.5 1007.7 1133.0 1006.0 1134.5 1006.2 1136.0 1006.0 1137.5 1006.8 1139.0 1008.1 1140.5 1007.8 1142.0 1007.5 1143.5 1007.7 1145.0 1008.1 1146.5 1007.5 1148.0 1008.0 1149.5 1007.9 1151.0 1006.5 1152.5 1007.7 1154.0 1008.7 1155.5 1007.7 1157.0 1007.9 1158.5 1007.7 1160.0 1007.8 1161.5 1008.8 1163.0 1008.0 1164.5 1007.6 1166.0 1006.3 1167.5 1007.9 1169.0 1007.1 1170.5 1007.2 1172.0 1008.8 1173.5 1008.8 1175.0 1007.3 1176.5 1009.0 1178.0 1008.8 1179.5 1008.0 1181.0 1009.0 1182.5 1007.6 1184.0 1007.9 1185.5 1007.8 1187.0 1008.0 1188.5 1009.2 1190.0 1007.9 1191.5 1008.1 1193.0 1008.2 1194.5 1008.9 1196.0 1008.6 1197.5 1009.4 1199.0 1008.5 1200.5 1008.1 1202.0 1008.6 1203.5 1009.0 1205.0 1008.4 1206.5 1009.2 1208.0 1010.1 1209.5 1008.7 1211.0 1009.1 1212.5 1009.9 1214.0 1008.7 1215.5 1008.6 1217.0 1008.5 1218.5 1009.4 1220.0 1009.4 1221.5 1009.1 1223.0 1009.2 1224.5 1009.9 1226.0 1009.7 1227.5 1008.3 1229.0 1009.2 1230.5 1009.2 1232.0 1009.6 1233.5 1009.1 1235.0 1008.8 1236.5 1008.9 1238.0 1008.1 1239.5 1009.2 1241.0 1008.8 1242.5 1009.4 1244.0 1008.5 1245.5 1008.9 1247.0 1008.5 1248.5 1008.4 1250.0 1009.5 1251.5 1008.8 1253.0 1009.3 1254.5 1008.3 1256.0 1009.0 1257.5 1007.9 1259.0 1008.6 1260.5 1008.5 1262.0 1009.2 1263.5 1008.9 1265.0 1008.6 1266.5 1009.2 1268.0 1008.8 1269.5 1008.9 1271.0 1009.0 1272.5 1008.5 1274.0 1008.3 1275.5 1008.6 1277.0 1008.1 1278.5 1008.5 1280.0 1008.9 1281.5 1008.7 1283.0 1007.9 1284.5 1007.3 1286.0 1007.9 1287.5 1007.8 1289.0 1008.4 1290.5 1007.3 1292.0 1007.2 1293.5 1007.5 1295.0 1006.5 1296.5 1006.4 1298.0 1007.2 1299.5 1006.7 1301.0 1005.9 1302.5 1005.4 1304.0 1004.4 1305.5 1005.0 1307.0 1004.5 1308.5 1004.4 1310.0 1003.8 1311.5 1004.0 1313.0 1003.8 1314.5 1004.0 1316.0 1004.6 1317.5 1003.9 1319.0 1002.7 1320.5 1003.0 1322.0 1002.6 1323.5 1003.0 1325.0 1003.8 1326.5 1003.7 1328.0 1003.0 1329.5 1003.5 1331.0 1002.9 1332.5 1002.4 1334.0 1002.4 1335.5 1002.7 1337.0 1004.0 1338.5 1002.4 1340.0 1003.9 1341.5 1003.9 1343.0 1003.0 1344.5 1003.0 1346.0 1002.7 1347.5 1003.0 1349.0 1003.4 1350.5 1003.0 1352.0 1003.5 1353.5 1003.6 1355.0 1003.1 1356.5 1003.1 1358.0 1002.8 1359.5 1003.1 1361.0 1002.2 1362.5 1003.1 1364.0 1003.0 1365.5 1002.3 1367.0 1004.1 1368.5 1002.2 1370.0 1002.3 1371.5 1002.9 1373.0 1001.6 1374.5 1002.2 1376.0 1001.7 1377.5 1001.8 1379.0 1001.6 1380.5 1000.9 1382.0 1000.3 1383.5 999.0 1385.0 998.3 1386.5 997.1 1388.0 996.1 1389.5 997.0 1391.0 996.3 1392.5 996.8 1394.0 998.9 1395.5 999.4 1397.0 1000.1 1398.5 1001.5 1400.0 1002.7 1401.5 1002.3 1403.0 1004.0 1404.5 1004.0 1406.0 1005.2 1407.5 1004.9 1409.0 1006.3 1410.5 1005.9 1412.0 1005.2 1413.5 1005.8 1415.0 1005.2 1416.5 1006.0 1418.0 1006.4 1419.5 1006.3 1421.0 1005.1 1422.5 1006.1 1424.0 1006.7 1425.5 1006.7 1427.0 1007.2 1428.5 1005.8 1430.0 1007.0 1431.5 1006.3 1433.0 1006.9 1434.5 1007.1 1436.0 1007.3 1437.5 1006.6 1439.0 1007.1 1440.5 1006.3 1442.0 1006.2 1443.5 1007.5 1445.0 1007.1 1446.5 1006.2 1448.0 1006.7 1449.5 1007.3 1451.0 1008.2 1452.5 1008.0 1454.0 1007.9 1455.5 1006.3 1457.0 1007.4 1458.5 1007.8 1460.0 1007.7 1461.5 1007.8 1463.0 1007.4 1464.5 1008.7 1466.0 1008.5 1467.5 1007.6 1469.0 1007.1 1470.5 1009.0 1472.0 1007.4 1473.5 1008.5 1475.0 1009.0 1476.5 1007.3 1478.0 1008.1 1479.5 1007.8 1481.0 1008.3 1482.5 1008.3 1484.0 1009.3 1485.5 1008.5 1487.0 1008.2 1488.5 1008.9 1490.0 1008.1 1491.5 1008.1 1493.0 1009.7 1494.5 1008.0 1496.0 1008.2 1497.5 1008.6 1499.0 1008.0 1500.5 1007.4 1502.0 1009.3 1503.5 1008.3 1505.0 1008.5 1506.5 1008.6 1508.0 1008.3 1509.5 1008.3 1511.0 1009.1 1512.5 1010.5 1514.0 1009.5 1515.5 1009.6 1517.0 1008.3 1518.5 1009.2 1520.0 1008.6 1521.5 1009.8 1523.0 1009.2 1524.5 1009.4 1526.0 1009.4 1527.5 1009.2 1529.0 1008.6 1530.5 1009.9 1532.0 1008.8 1533.5 1009.0 1535.0 1009.5 1536.5 1009.3 1538.0 1010.0 1539.5 1010.4 1541.0 1010.0 1542.5 1010.0 1544.0 1010.0 1545.5 1010.5 1547.0 1008.9 1548.5 1010.3 1550.0 1009.5 1551.5 1009.4 1553.0 1010.2 1554.5 1009.9 1556.0 1010.6 1557.5 1010.9 1559.0 1008.9 1560.5 1010.2 1562.0 1011.5 1563.5 1010.8 1565.0 1011.2 1566.5 1010.4 1568.0 1009.5 1569.5 1009.7 1571.0 1010.8 1572.5 1011.0 1574.0 1010.0 1575.5 1010.3 1577.0 1010.6 1578.5 1009.4 1580.0 1010.3 1581.5 1011.4 1583.0 1011.8 1584.5 1010.4 1586.0 1011.5 1587.5 1010.1 1589.0 1009.9 1590.5 1009.0 1592.0 1010.9 1593.5 1010.0 1595.0 1011.6 1596.5 1010.4 1598.0 1010.2 1599.5 1009.0 1601.0 1010.9 1602.5 1009.7 1604.0 1009.7 1605.5 1008.4 1607.0 1010.2 1608.5 1010.2 1610.0 1009.1 1611.5 1009.5 1613.0 1009.6 1614.5 1009.8 1616.0 1009.2 1617.5 1010.1 1619.0 1008.8 1620.5 1008.5 1622.0 1008.5 1623.5 1007.2 1625.0 1008.2 1626.5 1009.2 1628.0 1008.6 1629.5 1007.9 1631.0 1008.6 1632.5 1007.1 1634.0 1008.1 1635.5 1008.5 1637.0 1008.5 1638.5 1007.6 1640.0 1008.6 1641.5 1009.1 1643.0 1007.7 1644.5 1008.4 1646.0 1007.0 1647.5 1006.8 1649.0 1008.3 1650.5 1008.0 1652.0 1008.1 1653.5 1007.6 1655.0 1007.8 1656.5 1008.5 1658.0 1009.1 1659.5 1007.9 1661.0 1007.1 1662.5 1008.9 1664.0 1008.5 1665.5 1008.5 1667.0 1008.3 1668.5 1009.6 1670.0 1008.3 1671.5 1008.6 1673.0 1007.2 1674.5 1008.0 1676.0 1007.9 1677.5 1008.4 1679.0 1008.6 1680.5 1008.0 1682.0 1009.5 1683.5 1007.9 1685.0 1008.3 1686.5 1008.8 1688.0 1007.9 1689.5 1009.1 1691.0 1009.1 1692.5 1008.6 1694.0 1010.0 1695.5 1008.9 1697.0 1009.1 1698.5 1008.4 1700.0 1008.0 1701.5 1008.7 1703.0 1008.9 1704.5 1008.9 1706.0 1009.7 1707.5 1007.9 1709.0 1008.7 1710.5 1008.3 1712.0 1010.2 1713.5 1009.1 1715.0 1009.2 1716.5 1008.9 1718.0 1010.2 1719.5 1009.4 1721.0 1009.9 1722.5 1008.5 1724.0 1010.5 1725.5 1010.1 1727.0 1010.2 1728.5 1010.7 1730.0 1009.9 1731.5 1009.9 1733.0 1010.5 1734.5 1010.4 1736.0 1010.0 1737.5 1010.2 1739.0 1009.9 1740.5 1010.7 1742.0 1010.9 1743.5 1010.3 1745.0 1011.5 1746.5 1009.5 1748.0 1010.3 1749.5 1011.5 1751.0 1010.2 1752.5 1009.6 1754.0 1011.4 1755.5 1010.9 1757.0 1009.9 1758.5 1011.1 1760.0 1010.0 1761.5 1009.9 1763.0 1010.6 1764.5 1010.4 1766.0 1010.1 1767.5 1010.6 1769.0 1010.2 1770.5 1010.9 1772.0 1010.8 1773.5 1011.3 1775.0 1010.6 1776.5 1010.1 1778.0 1010.2 1779.5 1010.8 1781.0 1011.9 1782.5 1011.5 1784.0 1010.7 1785.5 1011.7 1787.0 1010.4 1788.5 1011.7 1790.0 1010.9 1791.5 1011.6 1793.0 1011.6 1794.5 1011.1 1796.0 1011.5 1797.5 1010.6 1799.0 1011.3 1800.5 1012.0 1802.0 1013.8 1803.5 1011.8 1805.0 1011.5 1806.5 1010.8 1808.0 1012.1 1809.5 1010.5 1811.0 1011.0 1812.5 1011.7 1814.0 1010.8 1815.5 1012.5 1817.0 1012.3 1818.5 1011.3 1820.0 1011.3 1821.5 1010.9 1823.0 1010.8 1824.5 1012.0 1826.0 1012.1 1827.5 1012.0 1829.0 1011.9 1830.5 1011.5 1832.0 1012.0 1833.5 1011.0 1835.0 1011.9 1836.5 1012.8 1838.0 1012.7 1839.5 1011.6 1841.0 1011.7 1842.5 1012.8 1844.0 1013.1 1845.5 1011.1 1847.0 1011.8 1848.5 1012.2 1850.0 1012.8 1851.5 1011.6 1853.0 1012.5 1854.5 1012.0 1856.0 1013.6 1857.5 1012.4 1859.0 1012.1 1860.5 1012.0 1862.0 1012.9 1863.5 1012.7 1865.0 1011.6 1866.5 1012.4 1868.0 1011.5 1869.5 1011.9 1871.0 1011.6 1872.5 1011.6 1874.0 1012.0 1875.5 1011.8 1877.0 1012.7 1878.5 1012.9 1880.0 1012.3 1881.5 1011.8 1883.0 1013.0 1884.5 1011.3 1886.0 1011.4 1887.5 1013.0 1889.0 1012.9 1890.5 1013.2 1892.0 1012.5 1893.5 1011.8 1895.0 1012.3 1896.5 1013.0 1898.0 1012.2 1899.5 1012.2 1901.0 1011.8 1902.5 1012.0 1904.0 1013.2 1905.5 1013.0 1907.0 1012.0 1908.5 1012.1 1910.0 1012.4 1911.5 1013.1 1913.0 1012.1 1914.5 1012.7 1916.0 1011.5 1917.5 1012.1 1919.0 1013.1 1920.5 1013.4 1922.0 1012.2 1923.5 1012.4 1925.0 1013.4 1926.5 1012.7 1928.0 1012.6 1929.5 1013.2 1931.0 1013.0 1932.5 1013.6 1934.0 1013.4 1935.5 1012.6 1937.0 1012.9" fill="none" stroke="#ff00ff" stroke-width="3.5" stroke-linejoin="round"/>
<path d="M158.0 1064.6 159.5 1063.9 161.0 1064.3 162.5 1065.5 164.0 1064.1 165.5 1065.7 167.0 1065.4 168.5 1065.2 170.0 1065.8 171.5 1065.8 173.0 1066.4 174.5 1065.5 176.0 1065.7 177.5 1065.8 179.0 1067.2 180.5 1066.7 182.0 1065.7 183.5 1066.1 185.0 1066.0 186.5 1066.6 188.0 1066.8 189.5 1068.1 191.0 1065.8 192.5 1067.6 194.0 1067.4 195.5 1066.8 197.0 1067.2 198.5 1067.1 200.0 1067.6 201.5 1068.3 203.0 1066.9 204.5 1068.7 206.0 1067.8 207.5 1069.0 209.0 1068.5 210.5 1069.1 212.0 1068.8 213.5 1069.2 215.0 1068.7 216.5 1068.3 218.0 1069.3 219.5 1069.5 221.0 1070.4 222.5 1068.1 224.0 1069.3 225.5 1070.2 227.0 1068.9 228.5 1069.7 230.0 1071.2 231.5 1070.9 233.0 1069.7 234.5 1071.2 236.0 1071.2 237.5 1071.0 239.0 1070.9 240.5 1071.0 242.0 1070.5 243.5 1070.8 245.0 1071.7 246.5 1071.5 248.0 1072.7 249.5 1071.6 251.0 1070.5 252.5 1071.9 254.0 1072.4 255.5 1072.6 257.0 1072.6 258.5 1072.2 260.0 1073.8 261.5 1072.7 263.0 1073.6 264.5 1073.2 266.0 1072.8 267.5 1074.6 269.0 1072.4 270.5 1073.6 272.0 1074.5 273.5 1074.2 275.0 1075.0 276.5 1074.7 278.0 1074.6 279.5 1076.4 281.0 1075.1 282.5 1075.3 284.0 1074.9 285.5 1075.3 287.0 1076.3 288.5 1076.4 290.0 1076.2 291.5 1075.9 293.0 1076.9 294.5 1075.6 296.0 1076.6 297.5 1076.8 299.0 1076.6 300.5 1077.3 302.0 1077.0 303.5 1077.0 305.0 1078.7 306.5 1078.2 308.0 1078.6 309.5 1078.0 311.0 1078.7 312.5 1078.7 314.0 1079.1 315.5 1079.9 317.0 1078.4 318.5 1078.8 320.0 1078.7 321.5 1076.8 323.0 1078.1 324.5 1079.1 326.0 1079.6 327.5 1078.9 329.0 1080.1 330.5 1080.3 332.0 1079.4 333.5 1080.6 335.0 1080.9 336.5 1080.2 338.0 1079.4 339.5 1081.0 341.0 1080.1 342.5 1080.1 344.0 1080.5 345.5 1080.2 347.0 1081.3 348.5 1081.2 350.0 1081.6 351.5 1081.3 353.0 1080.5 354.5 1081.0 356.0 1081.7 357.5 1081.1 359.0 1083.1 360.5 1081.3 362.0 1081.2 363.5 1082.3 365.0 1082.2 366.5 1081.8 368.0 1081.7 369.5 1082.2 371.0 1082.5 372.5 1082.5 374.0 1082.0 375.5 1082.5 377.0 1082.8 378.5 1082.8 380.0 1080.5 381.5 1081.9 383.0 1082.0 384.5 1082.4 386.0 1082.6 387.5 1083.1 389.0 1083.0 390.5 1082.6 392.0 1082.7 393.5 1083.7 395.0 1082.3 396.5 1082.9 398.0 1083.6 399.5 1082.9 401.0 1081.5 402.5 1082.9 404.0 1082.5 405.5 1082.6 407.0 1083.3 408.5 1083.0 410.0 1082.5 411.5 1083.2 413.0 1083.0 414.5 1082.8 416.0 1082.9 417.5 1082.9 419.0 1082.5 420.5 1082.4 422.0 1082.7 423.5 1082.1 425.0 1081.9 426.5 1083.5 428.0 1082.6 429.5 1082.7 431.0 1082.6 432.5 1082.7 434.0 1082.7 435.5 1082.7 437.0 1082.2 438.5 1083.3 440.0 1082.3 441.5 1083.3 443.0 1081.5 444.5 1082.1 446.0 1083.3 447.5 1082.6 449.0 1082.3 450.5 1082.9 452.0 1082.1 453.5 1082.7 455.0 1081.4 456.5 1082.4 458.0 1082.3 459.5 1083.0 461.0 1083.2 462.5 1082.2 464.0 1083.7 465.5 1082.3 467.0 1081.5 468.5 1081.3 470.0 1083.6 471.5 1082.6 473.0 1082.3 474.5 1082.3 476.0 1082.0 477.5 1083.5 479.0 1082.6 480.5 1083.8 482.0 1082.6 483.5 1081.3 485.0 1083.2 486.5 1082.5 488.0 1082.6 489.5 1083.7 491.0 1082.6 492.5 1083.4 494.0 1082.8 495.5 1082.3 497.0 1083.1 498.5 1082.5 500.0 1083.6 501.5 1083.4 503.0 1082.9 504.5 1083.3 506.0 1083.3 507.5 1082.8 509.0 1083.5 510.5 1082.9 512.0 1083.4 513.5 1082.5 515.0 1083.1 516.5 1083.4 518.0 1082.7 519.5 1082.9 521.0 1082.9 522.5 1083.7 524.0 1082.8 525.5 1083.5 527.0 1084.2 528.5 1083.5 530.0 1082.4 531.5 1083.4 533.0 1084.0 534.5 1083.2 536.0 1084.1 537.5 1083.8 539.0 1083.7 540.5 1083.3 542.0 1083.2 543.5 1083.3 545.0 1083.5 546.5 1083.8 548.0 1083.8 549.5 1083.3 551.0 1083.5 552.5 1083.7 554.0 1082.5 555.5 1083.0 557.0 1083.0 558.5 1083.3 560.0 1083.3 561.5 1083.3 563.0 1082.9 564.5 1083.8 566.0 1083.5 567.5 1082.3 569.0 1083.3 570.5 1082.6 572.0 1084.2 573.5 1082.9 575.0 1082.9 576.5 1083.2 578.0 1083.0 579.5 1083.0 581.0 1083.9 582.5 1083.1 584.0 1083.4 585.5 1083.6 587.0 1082.3 588.5 1083.8 590.0 1083.2 591.5 1083.3 593.0 1082.2 594.5 1083.1 596.0 1082.9 597.5 1082.2 599.0 1083.9 600.5 1082.8 602.0 1082.3 603.5 1082.6 605.0 1083.0 606.5 1083.1 608.0 1082.7 609.5 1083.1 611.0 1083.2 612.5 1081.5 614.0 1081.9 615.5 1081.6 617.0 1082.2 618.5 1083.0 620.0 1082.5 621.5 1081.5 623.0 1081.9 624.5 1082.6 626.0 1081.7 627.5 1081.9 629.0 1082.1 630.5 1080.8 632.0 1082.3 633.5 1082.0 635.0 1082.1 636.5 1081.1 638.0 1081.1 639.5 1081.2 641.0 1081.6 642.5 1081.4 644.0 1081.3 645.5 1082.2 647.0 1081.8 648.5 1080.4 650.0 1080.2 651.5 1081.5 653.0 1080.0 654.5 1080.8 656.0 1080.7 657.5 1079.2 659.0 1079.1 660.5 1079.0 662.0 1078.1 663.5 1077.8 665.0 1077.8 666.5 1078.3 668.0 1077.2 669.5 1077.0 671.0 1076.5 672.5 1075.6 674.0 1076.9 675.5 1074.1 677.0 1074.6 678.5 1074.9 680.0 1073.1 681.5 1073.8 683.0 1073.6 684.5 1071.7 686.0 1071.7 687.5 1070.3 689.0 1070.6 690.5 1069.6 692.0 1068.9 693.5 1068.7 695.0 1067.3 696.5 1066.8 698.0 1065.3 699.5 1063.0 701.0 1062.7 702.5 1061.5 704.0 1059.0 705.5 1059.4 707.0 1057.1 708.5 1055.7 710.0 1053.3 711.5 1052.3 713.0 1051.0 714.5 1049.2 716.0 1048.2 717.5 1045.6 719.0 1046.4 720.5 1043.7 722.0 1042.1 723.5 1042.2 725.0 1042.0 726.5 1042.9 728.0 1042.2 729.5 1043.3 731.0 1043.0 732.5 1045.4 734.0 1044.9 735.5 1046.4 737.0 1045.7 738.5 1048.2 740.0 1049.0 741.5 1051.7 743.0 1053.4 744.5 1053.7 746.0 1055.8 747.5 1057.7 749.0 1059.3 750.5 1061.4 752.0 1062.7 753.5 1063.5 755.0 1065.3 756.5 1066.4 758.0 1066.0 759.5 1067.2 761.0 1068.1 762.5 1068.5 764.0 1068.8 765.5 1070.2 767.0 1070.7 768.5 1071.0 770.0 1071.0 771.5 1072.8 773.0 1073.0 774.5 1072.1 776.0 1072.6 777.5 1073.6 779.0 1072.5 780.5 1073.2 782.0 1073.0 783.5 1072.5 785.0 1072.7 786.5 1071.9 788.0 1072.4 789.5 1071.4 791.0 1073.9 792.5 1073.3 794.0 1073.1 795.5 1072.4 797.0 1072.7 798.5 1072.8 800.0 1072.6 801.5 1072.5 803.0 1071.4 804.5 1072.1 806.0 1071.5 807.5 1071.0 809.0 1071.0 810.5 1071.9 812.0 1072.2 813.5 1070.8 815.0 1072.6 816.5 1072.4 818.0 1071.3 819.5 1071.2 821.0 1071.5 822.5 1072.1 824.0 1071.4 825.5 1071.0 827.0 1072.0 828.5 1070.6 830.0 1072.1 831.5 1072.8 833.0 1072.5 834.5 1072.9 836.0 1072.9 837.5 1073.2 839.0 1073.0 840.5 1072.6 842.0 1073.1 843.5 1073.4 845.0 1074.5 846.5 1075.0 848.0 1074.6 849.5 1074.2 851.0 1074.5 852.5 1075.1 854.0 1076.3 855.5 1075.9 857.0 1075.9 858.5 1075.6 860.0 1076.8 861.5 1076.6 863.0 1076.5 864.5 1076.8 866.0 1077.9 867.5 1076.9 869.0 1078.1 870.5 1078.0 872.0 1077.4 873.5 1078.1 875.0 1077.6 876.5 1077.3 878.0 1077.8 879.5 1077.5 881.0 1078.5 882.5 1078.3 884.0 1078.7 885.5 1079.0 887.0 1076.8 888.5 1078.9 890.0 1077.8 891.5 1079.1 893.0 1078.5 894.5 1079.2 896.0 1080.1 897.5 1078.4 899.0 1079.6 900.5 1079.5 902.0 1078.5 903.5 1080.2 905.0 1079.9 906.5 1079.6 908.0 1079.6 909.5 1082.1 911.0 1080.0 912.5 1079.2 914.0 1079.8 915.5 1080.3 917.0 1080.3 918.5 1080.6 920.0 1080.1 921.5 1081.1 923.0 1080.6 924.5 1080.2 926.0 1080.6 927.5 1080.9 929.0 1081.7 930.5 1081.6 932.0 1081.2 933.5 1081.5 935.0 1081.6 936.5 1082.8 938.0 1081.3 939.5 1082.0 941.0 1082.3 942.5 1081.3 944.0 1082.1 945.5 1082.2 947.0 1081.9 948.5 1082.6 950.0 1082.9 951.5 1083.1 953.0 1082.3 954.5 1082.6 956.0 1084.0 957.5 1082.0 959.0 1082.9 960.5 1083.4 962.0 1083.0 963.5 1083.4 965.0 1083.1 966.5 1083.6 968.0 1083.9 969.5 1083.1 971.0 1083.4 972.5 1083.3 974.0 1083.2 975.5 1083.5 977.0 1082.9 978.5 1084.1 980.0 1084.7 981.5 1084.8 983.0 1084.6 984.5 1083.3 986.0 1084.8 987.5 1083.6 989.0 1084.0 990.5 1085.2 992.0 1083.5 993.5 1084.7 995.0 1084.4 996.5 1084.2 998.0 1083.9 999.5 1084.7 1001.0 1084.2 1002.5 1085.2 1004.0 1085.4 1005.5 1083.9 1007.0 1084.4 1008.5 1084.6 1010.0 1084.1 1011.5 1084.2 1013.0 1085.0 1014.5 1084.9 1016.0 1084.1 1017.5 1084.8 1019.0 1085.5 1020.5 1084.5 1022.0 1084.8 1023.5 1086.3 1025.0 1086.2 1026.5 1084.5 1028.0 1084.8 1029.5 1085.9 1031.0 1085.0 1032.5 1085.6 1034.0 1085.5 1035.5 1086.2 1037.0 1084.4 1038.5 1084.7 1040.0 1085.3 1041.5 1086.8 1043.0 1086.1 1044.5 1085.3 1046.0 1086.7 1047.5 1086.9 1049.0 1086.4 1050.5 1086.4 1052.0 1086.9 1053.5 1087.5 1055.0 1086.9 1056.5 1087.2 1058.0 1086.9 1059.5 1086.8 1061.0 1086.6 1062.5 1087.4 1064.0 1087.1 1065.5 1087.2 1067.0 1088.0 1068.5 1087.9 1070.0 1088.2 1071.5 1086.8 1073.0 1088.2 1074.5 1087.6 1076.0 1087.6 1077.5 1087.6 1079.0 1089.0 1080.5 1088.8 1082.0 1088.0 1083.5 1087.9 1085.0 1088.7 1086.5 1088.5 1088.0 1089.9 1089.5 1088.1 1091.0 1088.0 1092.5 1089.0 1094.0 1089.3 1095.5 1089.5 1097.0 1089.9 1098.5 1090.8 1100.0 1089.5 1101.5 1089.5 1103.0 1088.9 1104.5 1090.2 1106.0 1090.6 1107.5 1090.1 1109.0 1091.0 1110.5 1090.5 1112.0 1091.5 1113.5 1090.9 1115.0 1090.1 1116.5 1090.5 1118.0 1090.0 1119.5 1090.0 1121.0 1091.3 1122.5 1091.8 1124.0 1092.5 1125.5 1091.4 1127.0 1091.4 1128.5 1091.0 1130.0 1092.3 1131.5 1092.1 1133.0 1091.6 1134.5 1092.4 1136.0 1092.5 1137.5 1091.1 1139.0 1092.7 1140.5 1092.5 1142.0 1092.2 1143.5 1092.3 1145.0 1093.7 1146.5 1093.6 1148.0 1093.9 1149.5 1092.2 1151.0 1092.5 1152.5 1093.6 1154.0 1092.4 1155.5 1092.7 1157.0 1092.1 1158.5 1094.4 1160.0 1094.0 1161.5 1093.7 1163.0 1093.6 1164.5 1093.3 1166.0 1093.4 1167.5 1094.1 1169.0 1093.3 1170.5 1094.6 1172.0 1093.6 1173.5 1093.4 1175.0 1094.8 1176.5 1094.0 1178.0 1094.5 1179.5 1094.0 1181.0 1093.0 1182.5 1094.7 1184.0 1093.6 1185.5 1095.2 1187.0 1093.6 1188.5 1093.5 1190.0 1094.9 1191.5 1095.0 1193.0 1094.9 1194.5 1094.2 1196.0 1095.5 1197.5 1094.1 1199.0 1094.8 1200.5 1094.6 1202.0 1094.9 1203.5 1095.7 1205.0 1094.9 1206.5 1095.7 1208.0 1095.8 1209.5 1094.4 1211.0 1094.8 1212.5 1095.3 1214.0 1095.2 1215.5 1095.8 1217.0 1094.4 1218.5 1096.1 1220.0 1096.1 1221.5 1095.6 1223.0 1094.9 1224.5 1095.7 1226.0 1095.4 1227.5 1096.1 1229.0 1095.7 1230.5 1096.2 1232.0 1095.5 1233.5 1096.7 1235.0 1094.4 1236.5 1095.2 1238.0 1096.1 1239.5 1094.9 1241.0 1096.2 1242.5 1095.0 1244.0 1095.8 1245.5 1095.2 1247.0 1095.4 1248.5 1095.8 1250.0 1095.6 1251.5 1095.4 1253.0 1096.9 1254.5 1095.6 1256.0 1095.0 1257.5 1096.1 1259.0 1096.0 1260.5 1096.2 1262.0 1096.5 1263.5 1094.8 1265.0 1095.9 1266.5 1096.0 1268.0 1095.2 1269.5 1095.3 1271.0 1093.3 1272.5 1094.7 1274.0 1096.1 1275.5 1093.9 1277.0 1094.6 1278.5 1095.0 1280.0 1095.1 1281.5 1095.7 1283.0 1093.6 1284.5 1094.6 1286.0 1095.0 1287.5 1093.6 1289.0 1094.2 1290.5 1095.2 1292.0 1094.6 1293.5 1093.9 1295.0 1091.7 1296.5 1092.8 1298.0 1092.8 1299.5 1092.1 1301.0 1091.9 1302.5 1093.5 1304.0 1091.2 1305.5 1090.5 1307.0 1091.1 1308.5 1090.6 1310.0 1090.5 1311.5 1090.5 1313.0 1091.1 1314.5 1090.8 1316.0 1089.9 1317.5 1090.6 1319.0 1091.0 1320.5 1090.4 1322.0 1091.4 1323.5 1091.3 1325.0 1090.3 1326.5 1091.1 1328.0 1092.1 1329.5 1091.9 1331.0 1091.0 1332.5 1091.6 1334.0 1090.8 1335.5 1090.3 1337.0 1091.6 1338.5 1091.5 1340.0 1091.7 1341.5 1091.4 1343.0 1091.6 1344.5 1091.1 1346.0 1091.8 1347.5 1092.0 1349.0 1091.5 1350.5 1092.0 1352.0 1090.4 1353.5 1091.0 1355.0 1092.4 1356.5 1092.6 1358.0 1091.7 1359.5 1091.4 1361.0 1090.7 1362.5 1091.7 1364.0 1092.0 1365.5 1090.6 1367.0 1091.8 1368.5 1091.8 1370.0 1091.8 1371.5 1090.8 1373.0 1091.7 1374.5 1090.1 1376.0 1091.3 1377.5 1089.8 1379.0 1088.3 1380.5 1089.1 1382.0 1088.0 1383.5 1086.0 1385.0 1086.9 1386.5 1084.8 1388.0 1085.8 1389.5 1086.8 1391.0 1085.3 1392.5 1087.8 1394.0 1087.8 1395.5 1088.5 1397.0 1088.7 1398.5 1090.4 1400.0 1090.4 1401.5 1091.2 1403.0 1092.1 1404.5 1092.2 1406.0 1094.1 1407.5 1092.4 1409.0 1092.7 1410.5 1093.0 1412.0 1093.2 1413.5 1093.6 1415.0 1093.6 1416.5 1092.9 1418.0 1092.8 1419.5 1093.1 1421.0 1093.5 1422.5 1093.4 1424.0 1092.6 1425.5 1091.6 1427.0 1094.1 1428.5 1093.4 1430.0 1092.9 1431.5 1092.9 1433.0 1092.3 1434.5 1092.0 1436.0 1092.3 1437.5 1092.3 1439.0 1092.0 1440.5 1091.4 1442.0 1092.0 1443.5 1092.5 1445.0 1091.8 1446.5 1092.0 1448.0 1090.7 1449.5 1091.8 1451.0 1091.8 1452.5 1091.0 1454.0 1090.7 1455.5 1091.9 1457.0 1091.1 1458.5 1091.8 1460.0 1091.2 1461.5 1091.7 1463.0 1091.1 1464.5 1090.3 1466.0 1091.1 1467.5 1090.9 1469.0 1091.5 1470.5 1090.7 1472.0 1090.7 1473.5 1091.4 1475.0 1091.6 1476.5 1091.3 1478.0 1091.4 1479.5 1091.0 1481.0 1091.2 1482.5 1091.2 1484.0 1090.9 1485.5 1090.7 1487.0 1090.7 1488.5 1092.1 1490.0 1090.6 1491.5 1090.5 1493.0 1090.4 1494.5 1090.6 1496.0 1090.8 1497.5 1090.0 1499.0 1089.5 1500.5 1090.9 1502.0 1089.8 1503.5 1091.0 1505.0 1091.0 1506.5 1091.6 1508.0 1092.0 1509.5 1091.3 1511.0 1090.9 1512.5 1090.6 1514.0 1090.9 1515.5 1091.5 1517.0 1090.3 1518.5 1091.7 1520.0 1091.8 1521.5 1092.3 1523.0 1091.8 1524.5 1092.2 1526.0 1091.8 1527.5 1092.1 1529.0 1091.4 1530.5 1092.7 1532.0 1093.7 1533.5 1093.0 1535.0 1093.2 1536.5 1092.5 1538.0 1094.1 1539.5 1092.9 1541.0 1094.0 1542.5 1093.7 1544.0 1093.2 1545.5 1094.5 1547.0 1094.0 1548.5 1094.3 1550.0 1094.5 1551.5 1094.4 1553.0 1094.3 1554.5 1094.9 1556.0 1094.5 1557.5 1094.9 1559.0 1094.5 1560.5 1094.1 1562.0 1094.7 1563.5 1094.9 1565.0 1095.3 1566.5 1096.1 1568.0 1094.4 1569.5 1095.6 1571.0 1094.2 1572.5 1095.0 1574.0 1095.4 1575.5 1094.4 1577.0 1094.6 1578.5 1095.9 1580.0 1095.8 1581.5 1095.7 1583.0 1095.3 1584.5 1097.1 1586.0 1095.7 1587.5 1095.2 1589.0 1096.7 1590.5 1096.1 1592.0 1095.4 1593.5 1096.3 1595.0 1095.6 1596.5 1095.9 1598.0 1095.6 1599.5 1094.7 1601.0 1095.9 1602.5 1095.3 1604.0 1094.5 1605.5 1094.6 1607.0 1095.5 1608.5 1094.7 1610.0 1094.8 1611.5 1095.1 1613.0 1094.7 1614.5 1093.6 1616.0 1094.8 1617.5 1094.9 1619.0 1094.8 1620.5 1095.1 1622.0 1094.3 1623.5 1094.5 1625.0 1094.9 1626.5 1093.6 1628.0 1094.8 1629.5 1094.7 1631.0 1094.1 1632.5 1094.6 1634.0 1094.0 1635.5 1092.9 1637.0 1094.1 1638.5 1093.5 1640.0 1093.5 1641.5 1093.3 1643.0 1094.0 1644.5 1093.5 1646.0 1092.8 1647.5 1093.5 1649.0 1093.6 1650.5 1092.8 1652.0 1093.0 1653.5 1093.0 1655.0 1092.9 1656.5 1093.5 1658.0 1093.9 1659.5 1094.4 1661.0 1094.0 1662.5 1094.0 1664.0 1094.0 1665.5 1094.2 1667.0 1093.2 1668.5 1093.9 1670.0 1093.7 1671.5 1093.4 1673.0 1093.3 1674.5 1093.3 1676.0 1093.5 1677.5 1092.9 1679.0 1094.0 1680.5 1093.8 1682.0 1093.9 1683.5 1094.1 1685.0 1094.3 1686.5 1093.6 1688.0 1093.9 1689.5 1093.1 1691.0 1092.8 1692.5 1093.0 1694.0 1095.1 1695.5 1093.2 1697.0 1094.6 1698.5 1095.2 1700.0 1094.1 1701.5 1095.4 1703.0 1095.6 1704.5 1095.1 1706.0 1096.0 1707.5 1095.1 1709.0 1094.3 1710.5 1095.1 1712.0 1094.6 1713.5 1094.1 1715.0 1094.2 1716.5 1096.4 1718.0 1094.7 1719.5 1095.1 1721.0 1094.7 1722.5 1095.3 1724.0 1095.1 1725.5 1095.0 1727.0 1094.6 1728.5 1094.5 1730.0 1095.0 1731.5 1095.6 1733.0 1096.7 1734.5 1096.2 1736.0 1096.7 1737.5 1095.9 1739.0 1095.6 1740.5 1094.9 1742.0 1095.7 1743.5 1094.4 1745.0 1095.6 1746.5 1096.7 1748.0 1096.0 1749.5 1096.5 1751.0 1095.6 1752.5 1095.0 1754.0 1095.6 1755.5 1095.6 1757.0 1096.6 1758.5 1097.1 1760.0 1095.5 1761.5 1095.7 1763.0 1095.9 1764.5 1095.8 1766.0 1095.2 1767.5 1096.1 1769.0 1096.2 1770.5 1096.3 1772.0 1095.3 1773.5 1096.0 1775.0 1095.0 1776.5 1096.6 1778.0 1095.5 1779.5 1096.0 1781.0 1095.9 1782.5 1095.8 1784.0 1095.5 1785.5 1095.1 1787.0 1097.2 1788.5 1096.4 1790.0 1096.4 1791.5 1097.5 1793.0 1096.2 1794.5 1096.6 1796.0 1096.3 1797.5 1097.0 1799.0 1096.6 1800.5 1096.5 1802.0 1096.2 1803.5 1096.5 1805.0 1097.1 1806.5 1095.1 1808.0 1096.3 1809.5 1096.2 1811.0 1096.2 1812.5 1095.2 1814.0 1096.9 1815.5 1095.9 1817.0 1096.3 1818.5 1096.2 1820.0 1095.5 1821.5 1096.2 1823.0 1095.4 1824.5 1096.0 1826.0 1096.4 1827.5 1096.6 1829.0 1096.6 1830.5 1096.5 1832.0 1097.9 1833.5 1096.9 1835.0 1095.9 1836.5 1096.3 1838.0 1096.2 1839.5 1096.5 1841.0 1096.3 1842.5 1096.2 1844.0 1097.7 1845.5 1096.7 1847.0 1096.5 1848.5 1096.6 1850.0 1096.6 1851.5 1097.6 1853.0 1097.0 1854.5 1097.4 1856.0 1094.9 1857.5 1097.0 1859.0 1097.4 1860.5 1098.0 1862.0 1096.8 1863.5 1095.8 1865.0 1097.2 1866.5 1096.5 1868.0 1095.7 1869.5 1096.5 1871.0 1097.5 1872.5 1097.6 1874.0 1097.3 1875.5 1096.2 1877.0 1098.4 1878.5 1096.2 1880.0 1096.8 1881.5 1096.0 1883.0 1097.7 1884.5 1097.2 1886.0 1097.4 1887.5 1097.0 1889.0 1096.9 1890.5 1097.0 1892.0 1095.8 1893.5 1097.5 1895.0 1097.5 1896.5 1096.7 1898.0 1096.9 1899.5 1097.1 1901.0 1097.9 1902.5 1097.2 1904.0 1097.0 1905.5 1096.7 1907.0 1096.1 1908.5 1096.6 1910.0 1097.0 1911.5 1096.8 1913.0 1097.0 1914.5 1097.4 1916.0 1097.3 1917.5 1097.2 1919.0 1097.4 1920.5 1097.1 1922.0 1097.0 1923.5 1097.3 1925.0 1096.0 1926.5 1097.8 1928.0 1096.2 1929.5 1097.5 1931.0 1097.0 1932.5 1097.7 1934.0 1097.0 1935.5 1096.5 1937.0 1097.7" fill="none" stroke="#008000" stroke-width="3.5" stroke-linejoin="round"/>
<path d="M158.0 1154.8 159.5 1154.9 161.0 1154.9 162.5 1155.6 164.0 1155.5 165.5 1155.3 167.0 1154.3 168.5 1155.0 170.0 1155.4 171.5 1156.5 173.0 1155.7 174.5 1155.5 176.0 1156.4 177.5 1155.7 179.0 1155.8 180.5 1156.0 182.0 1155.1 183.5 1156.7 185.0 1156.4 186.5 1156.1 188.0 1155.6 189.5 1156.5 191.0 1157.3 192.5 1156.2 194.0 1156.0 195.5 1157.0 197.0 1155.9 198.5 1155.6 200.0 1156.7 201.5 1156.7 203.0 1157.0 204.5 1156.9 206.0 1157.5 207.5 1157.3 209.0 1157.2 210.5 1157.3 212.0 1158.1 213.5 1158.4 215.0 1158.4 216.5 1158.4 218.0 1156.1 219.5 1157.5 221.0 1158.0 222.5 1158.4 224.0 1157.4 225.5 1159.3 227.0 1158.8 228.5 1158.3 230.0 1158.9 231.5 1158.6 233.0 1158.5 234.5 1159.3 236.0 1158.8 237.5 1158.4 239.0 1158.9 240.5 1159.3 242.0 1158.9 243.5 1160.4 245.0 1159.1 246.5 1160.9 248.0 1160.5 249.5 1159.5 251.0 1160.2 252.5 1160.9 254.0 1160.2 255.5 1159.7 257.0 1160.6 258.5 1161.9 260.0 1159.9 261.5 1161.2 263.0 1161.0 264.5 1161.0 266.0 1161.0 267.5 1161.1 269.0 1162.1 270.5 1161.9 272.0 1161.1 273.5 1162.7 275.0 1161.1 276.5 1162.4 278.0 1162.2 279.5 1162.9 281.0 1162.5 282.5 1163.1 284.0 1162.5 285.5 1163.2 287.0 1163.0 288.5 1164.1 290.0 1162.5 291.5 1163.8 293.0 1163.4 294.5 1163.4 296.0 1163.0 297.5 1163.7 299.0 1162.6 300.5 1162.8 302.0 1164.1 303.5 1162.9 305.0 1164.7 306.5 1163.8 308.0 1164.2 309.5 1164.2 311.0 1164.5 312.5 1164.1 314.0 1164.1 315.5 1164.3 317.0 1165.1 318.5 1165.2 320.0 1165.4 321.5 1164.9 323.0 1164.6 324.5 1163.8 326.0 1165.3 327.5 1165.4 329.0 1164.8 330.5 1165.6 332.0 1165.9 333.5 1165.2 335.0 1165.9 336.5 1165.5 338.0 1164.3 339.5 1165.1 341.0 1165.2 342.5 1165.9 344.0 1165.1 345.5 1165.4 347.0 1165.1 348.5 1165.7 350.0 1165.9 351.5 1166.5 353.0 1166.4 354.5 1166.1 356.0 1166.2 357.5 1166.1 359.0 1166.2 360.5 1167.1 362.0 1164.7 363.5 1166.2 365.0 1166.5 366.5 1167.0 368.0 1165.8 369.5 1166.7 371.0 1167.0 372.5 1166.3 374.0 1165.5 375.5 1166.4 377.0 1166.0 378.5 1167.1 380.0 1166.3 381.5 1167.9 383.0 1166.9 384.5 1166.4 386.0 1166.6 387.5 1166.3 389.0 1167.2 390.5 1167.9 392.0 1167.0 393.5 1167.7 395.0 1166.6 396.5 1167.4 398.0 1168.6 399.5 1166.4 401.0 1168.0 402.5 1168.0 404.0 1166.2 405.5 1166.5 407.0 1166.8 408.5 1168.0 410.0 1167.2 411.5 1167.4 413.0 1168.0 414.5 1167.6 416.0 1167.7 417.5 1167.4 419.0 1168.3 420.5 1167.2 422.0 1168.7 423.5 1167.5 425.0 1167.3 426.5 1168.2 428.0 1168.1 429.5 1166.7 431.0 1168.0 432.5 1167.1 434.0 1167.4 435.5 1168.4 437.0 1167.5 438.5 1168.2 440.0 1167.8 441.5 1169.2 443.0 1168.0 444.5 1167.4 446.0 1167.4 447.5 1167.6 449.0 1168.2 450.5 1168.2 452.0 1168.8 453.5 1168.3 455.0 1168.3 456.5 1168.5 458.0 1168.2 459.5 1168.5 461.0 1168.8 462.5 1168.8 464.0 1168.0 465.5 1167.3 467.0 1167.9 468.5 1168.6 470.0 1167.0 471.5 1168.2 473.0 1168.8 474.5 1168.2 476.0 1167.9 477.5 1169.6 479.0 1169.4 480.5 1168.5 482.0 1169.4 483.5 1169.4 485.0 1168.0 486.5 1170.3 488.0 1168.2 489.5 1168.6 491.0 1168.1 492.5 1168.9 494.0 1168.0 495.5 1168.9 497.0 1169.5 498.5 1169.0 500.0 1168.8 501.5 1169.9 503.0 1168.4 504.5 1169.6 506.0 1168.9 507.5 1169.2 509.0 1169.1 510.5 1169.2 512.0 1169.1 513.5 1168.7 515.0 1168.8 516.5 1169.5 518.0 1169.2 519.5 1168.6 521.0 1168.9 522.5 1168.9 524.0 1169.3 525.5 1169.5 527.0 1169.4 528.5 1169.0 530.0 1169.4 531.5 1168.6 533.0 1167.7 534.5 1169.4 536.0 1168.5 537.5 1168.9 539.0 1168.8 540.5 1169.9 542.0 1168.8 543.5 1169.7 545.0 1169.2 546.5 1168.8 548.0 1168.6 549.5 1169.8 551.0 1169.7 552.5 1170.0 554.0 1170.6 555.5 1169.7 557.0 1169.7 558.5 1169.4 560.0 1169.5 561.5 1169.2 563.0 1168.9 564.5 1170.6 566.0 1168.2 567.5 1169.5 569.0 1169.6 570.5 1169.4 572.0 1168.7 573.5 1169.1 575.0 1168.9 576.5 1168.5 578.0 1169.1 579.5 1168.8 581.0 1168.7 582.5 1169.4 584.0 1168.3 585.5 1169.2 587.0 1168.5 588.5 1169.1 590.0 1168.8 591.5 1168.9 593.0 1168.1 594.5 1168.2 596.0 1168.1 597.5 1168.7 599.0 1169.0 600.5 1169.1 602.0 1168.1 603.5 1168.5 605.0 1167.4 606.5 1167.0 608.0 1167.8 609.5 1167.8 611.0 1167.3 612.5 1167.1 614.0 1168.4 615.5 1167.6 617.0 1167.0 618.5 1169.4 620.0 1168.0 621.5 1167.7 623.0 1168.2 624.5 1167.3 626.0 1168.7 627.5 1166.7 629.0 1166.8 630.5 1167.4 632.0 1167.0 633.5 1168.2 635.0 1166.3 636.5 1166.8 638.0 1167.3 639.5 1167.4 641.0 1167.5 642.5 1167.0 644.0 1167.9 645.5 1166.2 647.0 1166.3 648.5 1166.5 650.0 1165.6 651.5 1165.3 653.0 1165.0 654.5 1164.6 656.0 1164.0 657.5 1164.1 659.0 1163.2 660.5 1164.1 662.0 1162.7 663.5 1164.6 665.0 1164.1 666.5 1163.4 668.0 1162.3 669.5 1161.8 671.0 1162.5 672.5 1161.6 674.0 1161.4 675.5 1160.3 677.0 1160.9 678.5 1159.3 680.0 1159.4 681.5 1157.8 683.0 1157.8 684.5 1157.9 686.0 1156.6 687.5 1155.9 689.0 1155.9 690.5 1154.6 692.0 1154.5 693.5 1151.5 695.0 1152.3 696.5 1151.2 698.0 1148.8 699.5 1147.6 701.0 1147.4 702.5 1144.8 704.0 1143.6 705.5 1142.8 707.0 1140.8 708.5 1139.6 710.0 1137.2 711.5 1136.3 713.0 1135.3 714.5 1133.6 716.0 1130.9 717.5 1131.4 719.0 1129.8 720.5 1128.1 722.0 1128.6 723.5 1126.1 725.0 1128.1 726.5 1126.6 728.0 1127.9 729.5 1126.9 731.0 1126.2 732.5 1127.0 734.0 1127.4 735.5 1128.7 737.0 1130.8 738.5 1131.6 740.0 1134.3 741.5 1136.0 743.0 1137.1 744.5 1138.5 746.0 1140.2 747.5 1142.9 749.0 1144.5 750.5 1144.9 752.0 1146.0 753.5 1148.9 755.0 1148.5 756.5 1150.8 758.0 1151.3 759.5 1151.6 761.0 1153.6 762.5 1154.1 764.0 1155.8 765.5 1157.0 767.0 1156.1 768.5 1157.3 770.0 1157.6 771.5 1156.9 773.0 1156.9 774.5 1158.6 776.0 1157.7 777.5 1158.1 779.0 1158.1 780.5 1158.4 782.0 1158.2 783.5 1159.2 785.0 1159.6 786.5 1158.7 788.0 1158.1 789.5 1159.0 791.0 1158.1 792.5 1158.6 794.0 1159.7 795.5 1160.3 797.0 1159.1 798.5 1158.1 800.0 1159.2 801.5 1157.3 803.0 1158.2 804.5 1159.4 806.0 1158.9 807.5 1157.5 809.0 1157.3 810.5 1158.7 812.0 1158.1 813.5 1157.7 815.0 1158.3 816.5 1157.7 818.0 1156.8 819.5 1158.4 821.0 1157.6 822.5 1157.4 824.0 1157.3 825.5 1158.3 827.0 1157.8 828.5 1158.9 830.0 1158.5 831.5 1159.5 833.0 1158.8 834.5 1158.8 836.0 1158.3 837.5 1159.0 839.0 1160.3 840.5 1161.9 842.0 1159.5 843.5 1159.9 845.0 1161.0 846.5 1161.3 848.0 1161.0 849.5 1161.7 851.0 1161.0 852.5 1162.0 854.0 1163.0 855.5 1163.7 857.0 1162.8 858.5 1162.9 860.0 1163.5 861.5 1164.0 863.0 1163.8 864.5 1163.2 866.0 1164.0 867.5 1164.5 869.0 1163.6 870.5 1163.3 872.0 1164.6 873.5 1164.6 875.0 1165.1 876.5 1164.7 878.0 1164.3 879.5 1164.6 881.0 1164.3 882.5 1164.5 884.0 1164.8 885.5 1165.0 887.0 1166.0 888.5 1164.7 890.0 1165.5 891.5 1165.3 893.0 1166.6 894.5 1166.0 896.0 1165.7 897.5 1166.5 899.0 1166.1 900.5 1165.9 902.0 1167.2 903.5 1166.8 905.0 1167.5 906.5 1167.2 908.0 1167.0 909.5 1166.7 911.0 1166.1 912.5 1167.2 914.0 1166.9 915.5 1167.4 917.0 1167.0 918.5 1166.7 920.0 1166.6 921.5 1167.7 923.0 1168.1 924.5 1167.2 926.0 1167.7 927.5 1168.3 929.0 1167.1 930.5 1167.4 932.0 1167.0 933.5 1168.5 935.0 1168.0 936.5 1167.6 938.0 1167.0 939.5 1167.9 941.0 1168.7 942.5 1168.0 944.0 1168.0 945.5 1168.7 947.0 1167.6 948.5 1168.4 950.0 1168.8 951.5 1168.1 953.0 1168.1 954.5 1168.8 956.0 1168.7 957.5 1168.6 959.0 1169.0 960.5 1169.0 962.0 1168.4 963.5 1168.6 965.0 1169.3 966.5 1169.8 968.0 1170.0 969.5 1168.7 971.0 1169.9 972.5 1169.8 974.0 1169.4 975.5 1169.7 977.0 1170.0 978.5 1170.6 980.0 1169.0 981.5 1170.0 983.0 1169.6 984.5 1169.6 986.0 1170.4 987.5 1170.3 989.0 1169.3 990.5 1169.7 992.0 1170.1 993.5 1169.1 995.0 1170.5 996.5 1170.0 998.0 1170.2 999.5 1170.4 1001.0 1171.3 1002.5 1170.3 1004.0 1170.1 1005.5 1171.4 1007.0 1170.1 1008.5 1170.1 1010.0 1169.6 1011.5 1171.2 1013.0 1170.7 1014.5 1170.9 1016.0 1170.8 1017.5 1170.6 1019.0 1170.3 1020.5 1170.3 1022.0 1171.1 1023.5 1171.0 1025.0 1171.9 1026.5 1170.5 1028.0 1170.7 1029.5 1170.5 1031.0 1172.0 1032.5 1170.5 1034.0 1171.7 1035.5 1172.1 1037.0 1171.3 1038.5 1171.8 1040.0 1170.2 1041.5 1171.3 1043.0 1170.6 1044.5 1171.7 1046.0 1171.7 1047.5 1171.3 1049.0 1172.4 1050.5 1172.1 1052.0 1171.6 1053.5 1171.7 1055.0 1171.2 1056.5 1172.0 1058.0 1173.5 1059.5 1171.9 1061.0 1172.6 1062.5 1172.1 1064.0 1173.0 1065.5 1172.9 1067.0 1172.6 1068.5 1171.8 1070.0 1172.6 1071.5 1173.7 1073.0 1173.0 1074.5 1173.6 1076.0 1173.0 1077.5 1172.3 1079.0 1173.8 1080.5 1173.8 1082.0 1173.4 1083.5 1173.6 1085.0 1174.1 1086.5 1173.7 1088.0 1174.4 1089.5 1174.2 1091.0 1173.0 1092.5 1174.5 1094.0 1174.3 1095.5 1174.3 1097.0 1175.1 1098.5 1174.7 1100.0 1175.4 1101.5 1175.9 1103.0 1175.4 1104.5 1174.5 1106.0 1175.1 1107.5 1176.2 1109.0 1175.7 1110.5 1175.4 1112.0 1176.0 1113.5 1176.4 1115.0 1176.4 1116.5 1176.8 1118.0 1176.0 1119.5 1176.4 1121.0 1176.5 1122.5 1176.8 1124.0 1175.7 1125.5 1176.9 1127.0 1176.3 1128.5 1178.0 1130.0 1178.2 1131.5 1178.4 1133.0 1177.9 1134.5 1177.3 1136.0 1178.2 1137.5 1177.6 1139.0 1178.2 1140.5 1177.3 1142.0 1177.6 1143.5 1178.3 1145.0 1179.1 1146.5 1178.1 1148.0 1179.5 1149.5 1179.9 1151.0 1177.6 1152.5 1178.4 1154.0 1177.9 1155.5 1178.4 1157.0 1178.2 1158.5 1178.5 1160.0 1179.1 1161.5 1179.2 1163.0 1178.8 1164.5 1178.7 1166.0 1178.8 1167.5 1178.8 1169.0 1179.1 1170.5 1178.8 1172.0 1179.1 1173.5 1178.1 1175.0 1179.4 1176.5 1180.0 1178.0 1179.1 1179.5 1178.2 1181.0 1179.8 1182.5 1178.9 1184.0 1177.3 1185.5 1179.0 1187.0 1179.5 1188.5 1179.4 1190.0 1180.0 1191.5 1179.6 1193.0 1179.4 1194.5 1178.1 1196.0 1178.7 1197.5 1179.5 1199.0 1179.8 1200.5 1178.8 1202.0 1179.1 1203.5 1179.7 1205.0 1178.3 1206.5 1178.3 1208.0 1179.4 1209.5 1179.7 1211.0 1179.3 1212.5 1178.2 1214.0 1179.6 1215.5 1178.8 1217.0 1180.0 1218.5 1179.6 1220.0 1179.8 1221.5 1180.0 1223.0 1179.3 1224.5 1180.2 1226.0 1180.4 1227.5 1179.9 1229.0 1180.5 1230.5 1179.3 1232.0 1180.2 1233.5 1179.9 1235.0 1179.1 1236.5 1179.6 1238.0 1179.4 1239.5 1179.3 1241.0 1179.7 1242.5 1180.3 1244.0 1179.5 1245.5 1179.7 1247.0 1178.7 1248.5 1179.6 1250.0 1180.2 1251.5 1180.0 1253.0 1179.8 1254.5 1179.2 1256.0 1178.9 1257.5 1179.4 1259.0 1178.6 1260.5 1178.6 1262.0 1179.9 1263.5 1178.7 1265.0 1180.3 1266.5 1178.3 1268.0 1179.4 1269.5 1178.4 1271.0 1179.1 1272.5 1178.4 1274.0 1179.0 1275.5 1178.8 1277.0 1178.6 1278.5 1179.1 1280.0 1179.6 1281.5 1178.3 1283.0 1179.1 1284.5 1178.6 1286.0 1178.5 1287.5 1179.7 1289.0 1177.0 1290.5 1177.8 1292.0 1177.0 1293.5 1177.7 1295.0 1177.6 1296.5 1179.8 1298.0 1177.6 1299.5 1178.2 1301.0 1177.7 1302.5 1176.5 1304.0 1176.9 1305.5 1177.4 1307.0 1176.4 1308.5 1176.3 1310.0 1176.3 1311.5 1175.0 1313.0 1175.3 1314.5 1176.0 1316.0 1176.0 1317.5 1175.1 1319.0 1175.4 1320.5 1175.5 1322.0 1175.4 1323.5 1175.9 1325.0 1175.5 1326.5 1175.5 1328.0 1174.5 1329.5 1174.7 1331.0 1175.4 1332.5 1174.3 1334.0 1175.3 1335.5 1174.7 1337.0 1174.6 1338.5 1175.4 1340.0 1174.6 1341.5 1174.5 1343.0 1174.5 1344.5 1174.9 1346.0 1176.4 1347.5 1173.5 1349.0 1174.6 1350.5 1174.4 1352.0 1175.0 1353.5 1174.1 1355.0 1172.6 1356.5 1174.7 1358.0 1173.0 1359.5 1173.4 1361.0 1172.3 1362.5 1172.2 1364.0 1172.3 1365.5 1172.8 1367.0 1172.5 1368.5 1171.3 1370.0 1171.7 1371.5 1170.8 1373.0 1170.9 1374.5 1170.6 1376.0 1170.6 1377.5 1169.7 1379.0 1169.8 1380.5 1169.8 1382.0 1169.6 1383.5 1169.0 1385.0 1170.4 1386.5 1169.1 1388.0 1170.0 1389.5 1170.0 1391.0 1171.0 1392.5 1169.5 1394.0 1172.7 1395.5 1172.0 1397.0 1172.1 1398.5 1173.6 1400.0 1175.6 1401.5 1175.1 1403.0 1174.6 1404.5 1175.4 1406.0 1176.7 1407.5 1175.0 1409.0 1175.8 1410.5 1175.7 1412.0 1177.2 1413.5 1175.7 1415.0 1176.7 1416.5 1175.5 1418.0 1175.4 1419.5 1176.5 1421.0 1176.3 1422.5 1174.9 1424.0 1176.3 1425.5 1176.3 1427.0 1175.5 1428.5 1176.0 1430.0 1176.0 1431.5 1175.6 1433.0 1175.5 1434.5 1175.5 1436.0 1175.7 1437.5 1175.1 1439.0 1175.9 1440.5 1175.0 1442.0 1175.9 1443.5 1175.8 1445.0 1175.3 1446.5 1176.4 1448.0 1177.0 1449.5 1176.7 1451.0 1175.1 1452.5 1176.6 1454.0 1176.0 1455.5 1175.8 1457.0 1175.5 1458.5 1175.9 1460.0 1176.7 1461.5 1176.2 1463.0 1175.6 1464.5 1175.5 1466.0 1175.6 1467.5 1176.2 1469.0 1177.0 1470.5 1175.2 1472.0 1175.9 1473.5 1175.7 1475.0 1175.4 1476.5 1176.1 1478.0 1176.2 1479.5 1175.0 1481.0 1175.3 1482.5 1176.6 1484.0 1176.1 1485.5 1176.2 1487.0 1175.6 1488.5 1175.7 1490.0 1176.2 1491.5 1175.6 1493.0 1175.2 1494.5 1175.9 1496.0 1176.4 1497.5 1175.3 1499.0 1176.5 1500.5 1176.3 1502.0 1175.4 1503.5 1175.9 1505.0 1175.9 1506.5 1176.3 1508.0 1176.3 1509.5 1175.1 1511.0 1175.1 1512.5 1176.6 1514.0 1176.1 1515.5 1176.3 1517.0 1176.3 1518.5 1177.1 1520.0 1175.5 1521.5 1177.0 1523.0 1175.9 1524.5 1176.9 1526.0 1177.4 1527.5 1175.8 1529.0 1177.0 1530.5 1176.7 1532.0 1176.8 1533.5 1177.1 1535.0 1176.5 1536.5 1176.7 1538.0 1177.7 1539.5 1178.0 1541.0 1177.2 1542.5 1176.8 1544.0 1179.2 1545.5 1178.6 1547.0 1178.2 1548.5 1177.5 1550.0 1177.9 1551.5 1178.5 1553.0 1177.9 1554.5 1179.5 1556.0 1178.7 1557.5 1179.0 1559.0 1178.2 1560.5 1178.4 1562.0 1178.6 1563.5 1179.3 1565.0 1179.0 1566.5 1179.1 1568.0 1179.5 1569.5 1179.5 1571.0 1180.3 1572.5 1179.4 1574.0 1179.0 1575.5 1179.6 1577.0 1180.5 1578.5 1179.3 1580.0 1179.7 1581.5 1179.5 1583.0 1179.9 1584.5 1179.8 1586.0 1179.2 1587.5 1179.5 1589.0 1180.2 1590.5 1180.2 1592.0 1180.1 1593.5 1180.0 1595.0 1179.3 1596.5 1179.2 1598.0 1179.9 1599.5 1178.6 1601.0 1179.2 1602.5 1178.1 1604.0 1178.9 1605.5 1178.6 1607.0 1178.2 1608.5 1179.2 1610.0 1178.3 1611.5 1178.5 1613.0 1178.5 1614.5 1178.1 1616.0 1179.3 1617.5 1178.1 1619.0 1178.4 1620.5 1177.4 1622.0 1177.8 1623.5 1177.8 1625.0 1177.8 1626.5 1177.5 1628.0 1177.9 1629.5 1178.6 1631.0 1177.6 1632.5 1177.5 1634.0 1177.3 1635.5 1179.0 1637.0 1178.4 1638.5 1177.7 1640.0 1177.7 1641.5 1176.9 1643.0 1177.2 1644.5 1177.3 1646.0 1177.3 1647.5 1176.7 1649.0 1176.7 1650.5 1177.5 1652.0 1177.4 1653.5 1175.9 1655.0 1177.3 1656.5 1178.0 1658.0 1176.8 1659.5 1177.4 1661.0 1176.4 1662.5 1177.8 1664.0 1176.6 1665.5 1176.6 1667.0 1177.1 1668.5 1178.8 1670.0 1177.0 1671.5 1176.7 1673.0 1177.7 1674.5 1177.6 1676.0 1178.5 1677.5 1176.8 1679.0 1176.6 1680.5 1177.4 1682.0 1177.9 1683.5 1177.9 1685.0 1178.4 1686.5 1176.9 1688.0 1177.3 1689.5 1177.8 1691.0 1178.4 1692.5 1178.2 1694.0 1177.8 1695.5 1177.5 1697.0 1178.6 1698.5 1178.7 1700.0 1179.8 1701.5 1178.2 1703.0 1179.3 1704.5 1177.6 1706.0 1178.1 1707.5 1178.1 1709.0 1178.2 1710.5 1178.0 1712.0 1178.3 1713.5 1178.6 1715.0 1178.4 1716.5 1179.1 1718.0 1178.8 1719.5 1178.9 1721.0 1179.8 1722.5 1179.1 1724.0 1179.1 1725.5 1179.0 1727.0 1179.1 1728.5 1179.5 1730.0 1178.7 1731.5 1179.9 1733.0 1180.2 1734.5 1180.0 1736.0 1179.1 1737.5 1178.5 1739.0 1179.2 1740.5 1179.6 1742.0 1180.0 1743.5 1179.4 1745.0 1179.4 1746.5 1180.5 1748.0 1179.3 1749.5 1180.3 1751.0 1180.2 1752.5 1178.9 1754.0 1179.9 1755.5 1179.5 1757.0 1179.3 1758.5 1178.7 1760.0 1178.9 1761.5 1180.1 1763.0 1179.7 1764.5 1180.1 1766.0 1179.3 1767.5 1179.8 1769.0 1179.9 1770.5 1179.1 1772.0 1179.1 1773.5 1180.4 1775.0 1180.2 1776.5 1179.6 1778.0 1180.1 1779.5 1180.6 1781.0 1181.3 1782.5 1179.7 1784.0 1180.7 1785.5 1181.6 1787.0 1180.4 1788.5 1181.2 1790.0 1178.9 1791.5 1181.3 1793.0 1180.4 1794.5 1179.4 1796.0 1181.0 1797.5 1181.1 1799.0 1181.3 1800.5 1181.3 1802.0 1180.6 1803.5 1180.2 1805.0 1180.4 1806.5 1180.7 1808.0 1180.9 1809.5 1180.4 1811.0 1180.8 1812.5 1181.3 1814.0 1181.0 1815.5 1182.2 1817.0 1182.1 1818.5 1180.2 1820.0 1180.6 1821.5 1180.1 1823.0 1180.3 1824.5 1181.3 1826.0 1180.4 1827.5 1180.4 1829.0 1180.9 1830.5 1181.5 1832.0 1180.9 1833.5 1180.9 1835.0 1181.7 1836.5 1181.4 1838.0 1181.4 1839.5 1181.8 1841.0 1180.6 1842.5 1181.4 1844.0 1180.9 1845.5 1181.9 1847.0 1181.8 1848.5 1180.7 1850.0 1182.1 1851.5 1180.7 1853.0 1182.1 1854.5 1181.5 1856.0 1180.9 1857.5 1180.8 1859.0 1181.3 1860.5 1181.5 1862.0 1181.1 1863.5 1181.9 1865.0 1180.7 1866.5 1181.6 1868.0 1181.6 1869.5 1180.5 1871.0 1181.8 1872.5 1180.9 1874.0 1180.2 1875.5 1181.3 1877.0 1181.6 1878.5 1182.3 1880.0 1181.4 1881.5 1182.6 1883.0 1182.6 1884.5 1182.4 1886.0 1182.6 1887.5 1182.0 1889.0 1181.5 1890.5 1182.2 1892.0 1182.4 1893.5 1182.0 1895.0 1181.8 1896.5 1181.0 1898.0 1182.3 1899.5 1182.2 1901.0 1181.2 1902.5 1182.0 1904.0 1182.4 1905.5 1181.9 1907.0 1182.5 1908.5 1182.5 1910.0 1181.2 1911.5 1181.9 1913.0 1182.4 1914.5 1182.6 1916.0 1182.9 1917.5 1181.0 1919.0 1182.1 1920.5 1182.6 1922.0 1182.9 1923.5 1183.2 1925.0 1181.6 1926.5 1182.0 1928.0 1181.6 1929.5 1182.7 1931.0 1181.4 1932.5 1182.9 1934.0 1182.8 1935.5 1182.6 1937.0 1181.0" fill="none" stroke="#000080" stroke-width="3.5" stroke-linejoin="round"/>
<path d="M158.0 1245.6 159.5 1246.5 161.0 1245.3 162.5 1246.1 164.0 1246.3 165.5 1247.0 167.0 1246.7 168.5 1246.8 170.0 1246.5 171.5 1246.9 173.0 1246.9 174.5 1247.5 176.0 1247.1 177.5 1247.9 179.0 1246.4 180.5 1248.2 182.0 1247.5 183.5 1248.4 185.0 1247.9 186.5 1248.5 188.0 1249.0 189.5 1247.8 191.0 1248.3 192.5 1248.3 194.0 1248.6 195.5 1247.7 197.0 1248.6 198.5 1248.7 200.0 1248.5 201.5 1249.0 203.0 1248.3 204.5 1250.2 206.0 1249.7 207.5 1250.7 209.0 1249.2 210.5 1249.1 212.0 1250.1 213.5 1249.1 215.0 1250.3 216.5 1249.9 218.0 1250.2 219.5 1250.7 221.0 1250.7 222.5 1251.9 224.0 1251.3 225.5 1250.3 227.0 1251.7 228.5 1250.5 230.0 1251.5 231.5 1250.8 233.0 1251.2 234.5 1252.6 236.0 1251.6 237.5 1251.7 239.0 1251.9 240.5 1252.2 242.0 1253.4 243.5 1252.0 245.0 1252.1 246.5 1253.3 248.0 1252.2 249.5 1253.1 251.0 1254.1 252.5 1253.6 254.0 1253.5 255.5 1253.5 257.0 1253.5 258.5 1253.9 260.0 1254.5 261.5 1255.3 263.0 1255.3 264.5 1254.6 266.0 1254.7 267.5 1255.7 269.0 1254.3 270.5 1255.3 272.0 1255.6 273.5 1255.3 275.0 1255.5 276.5 1256.5 278.0 1255.5 279.5 1256.1 281.0 1256.4 282.5 1257.0 284.0 1256.3 285.5 1257.9 287.0 1257.2 288.5 1257.4 290.0 1257.5 291.5 1257.5 293.0 1257.4 294.5 1258.9 296.0 1258.4 297.5 1258.4 299.0 1259.2 300.5 1258.3 302.0 1259.2 303.5 1259.0 305.0 1258.6 306.5 1259.7 308.0 1258.5 309.5 1259.9 311.0 1259.1 312.5 1260.0 314.0 1260.6 315.5 1260.3 317.0 1259.7 318.5 1260.1 320.0 1260.0 321.5 1259.6 323.0 1259.7 324.5 1260.5 326.0 1260.9 327.5 1259.6 329.0 1260.7 330.5 1261.1 332.0 1261.0 333.5 1260.4 335.0 1261.7 336.5 1260.4 338.0 1261.6 339.5 1262.2 341.0 1260.1 342.5 1261.6 344.0 1261.7 345.5 1261.7 347.0 1261.2 348.5 1261.5 350.0 1260.9 351.5 1261.9 353.0 1262.2 354.5 1261.6 356.0 1261.5 357.5 1261.8 359.0 1262.2 360.5 1262.3 362.0 1262.2 363.5 1262.4 365.0 1261.7 366.5 1260.9 368.0 1262.9 369.5 1263.5 371.0 1261.8 372.5 1262.4 374.0 1263.0 375.5 1263.4 377.0 1263.3 378.5 1263.8 380.0 1263.0 381.5 1263.4 383.0 1263.4 384.5 1263.0 386.0 1264.0 387.5 1263.8 389.0 1264.0 390.5 1263.3 392.0 1264.2 393.5 1263.1 395.0 1264.0 396.5 1262.3 398.0 1263.3 399.5 1264.4 401.0 1263.8 402.5 1264.2 404.0 1263.2 405.5 1265.2 407.0 1264.7 408.5 1264.4 410.0 1264.7 411.5 1264.8 413.0 1265.5 414.5 1264.9 416.0 1264.0 417.5 1264.8 419.0 1265.7 420.5 1265.4 422.0 1264.9 423.5 1265.6 425.0 1265.4 426.5 1265.7 428.0 1264.5 429.5 1265.0 431.0 1266.0 432.5 1265.6 434.0 1266.0 435.5 1267.0 437.0 1265.8 438.5 1266.2 440.0 1265.8 441.5 1265.8 443.0 1266.2 444.5 1265.5 446.0 1265.2 447.5 1267.3 449.0 1266.5 450.5 1267.3 452.0 1266.8 453.5 1266.9 455.0 1267.3 456.5 1267.4 458.0 1266.4 459.5 1267.9 461.0 1266.7 462.5 1267.4 464.0 1268.9 465.5 1267.5 467.0 1268.5 468.5 1267.4 470.0 1268.0 471.5 1267.8 473.0 1268.1 474.5 1267.4 476.0 1267.4 477.5 1268.2 479.0 1267.2 480.5 1267.7 482.0 1268.6 483.5 1267.9 485.0 1267.9 486.5 1267.8 488.0 1268.6 489.5 1268.4 491.0 1268.8 492.5 1268.6 494.0 1269.9 495.5 1268.7 497.0 1267.8 498.5 1269.1 500.0 1269.1 501.5 1269.3 503.0 1268.4 504.5 1270.0 506.0 1269.4 507.5 1269.5 509.0 1268.7 510.5 1270.0 512.0 1269.7 513.5 1270.6 515.0 1269.7 516.5 1269.3 518.0 1270.1 519.5 1269.6 521.0 1270.4 522.5 1269.6 524.0 1270.3 525.5 1270.3 527.0 1270.4 528.5 1270.2 530.0 1270.1 531.5 1270.6 533.0 1270.3 534.5 1270.8 536.0 1270.6 537.5 1269.5 539.0 1270.8 540.5 1271.7 542.0 1271.1 543.5 1271.2 545.0 1271.2 546.5 1270.7 548.0 1270.2 549.5 1271.4 551.0 1271.6 552.5 1271.3 554.0 1271.2 555.5 1271.2 557.0 1270.9 558.5 1271.1 560.0 1270.9 561.5 1271.1 563.0 1270.3 564.5 1270.5 566.0 1271.2 567.5 1270.7 569.0 1269.4 570.5 1270.9 572.0 1269.5 573.5 1271.9 575.0 1271.2 576.5 1271.1 578.0 1270.4 579.5 1270.1 581.0 1270.6 582.5 1270.7 584.0 1270.2 585.5 1270.7 587.0 1271.0 588.5 1270.9 590.0 1270.0 591.5 1269.3 593.0 1270.5 594.5 1270.1 596.0 1270.8 597.5 1271.4 599.0 1271.4 600.5 1270.6 602.0 1271.1 603.5 1271.3 605.0 1270.4 606.5 1270.5 608.0 1270.8 609.5 1270.3 611.0 1270.0 612.5 1269.9 614.0 1270.3 615.5 1269.9 617.0 1270.7 618.5 1270.0 620.0 1271.0 621.5 1270.9 623.0 1269.4 624.5 1270.7 626.0 1269.9 627.5 1270.9 629.0 1270.3 630.5 1270.0 632.0 1270.4 633.5 1269.6 635.0 1270.1 636.5 1270.1 638.0 1269.7 639.5 1270.0 641.0 1269.1 642.5 1270.0 644.0 1268.9 645.5 1269.8 647.0 1269.6 648.5 1269.6 650.0 1268.7 651.5 1270.6 653.0 1268.6 654.5 1268.6 656.0 1267.9 657.5 1268.9 659.0 1267.6 660.5 1268.2 662.0 1266.8 663.5 1267.3 665.0 1266.7 666.5 1267.1 668.0 1266.2 669.5 1265.6 671.0 1266.0 672.5 1264.8 674.0 1264.6 675.5 1265.2 677.0 1263.4 678.5 1264.5 680.0 1263.4 681.5 1262.6 683.0 1262.8 684.5 1262.4 686.0 1261.2 687.5 1260.8 689.0 1260.7 690.5 1259.9 692.0 1258.4 693.5 1256.8 695.0 1255.3 696.5 1254.1 698.0 1253.3 699.5 1251.8 701.0 1250.2 702.5 1249.3 704.0 1246.7 705.5 1245.0 707.0 1243.3 708.5 1242.9 710.0 1238.9 711.5 1238.6 713.0 1236.9 714.5 1235.1 716.0 1234.7 717.5 1232.3 719.0 1230.3 720.5 1227.6 722.0 1226.8 723.5 1225.0 725.0 1224.0 726.5 1222.9 728.0 1221.4 729.5 1221.2 731.0 1221.3 732.5 1221.0 734.0 1221.2 735.5 1221.1 737.0 1224.2 738.5 1225.6 740.0 1226.4 741.5 1228.0 743.0 1230.7 744.5 1232.0 746.0 1235.1 747.5 1236.2 749.0 1238.3 750.5 1241.0 752.0 1242.4 753.5 1245.3 755.0 1247.6 756.5 1248.3 758.0 1250.9 759.5 1251.4 761.0 1253.3 762.5 1254.3 764.0 1255.0 765.5 1255.8 767.0 1255.8 768.5 1256.9 770.0 1257.3 771.5 1259.1 773.0 1259.2 774.5 1258.2 776.0 1259.7 777.5 1259.7 779.0 1259.6 780.5 1260.2 782.0 1260.4 783.5 1259.7 785.0 1259.8 786.5 1259.9 788.0 1259.1 789.5 1259.5 791.0 1259.1 792.5 1258.5 794.0 1258.1 795.5 1258.4 797.0 1258.4 798.5 1257.8 800.0 1256.8 801.5 1257.4 803.0 1256.8 804.5 1256.7 806.0 1256.8 807.5 1255.3 809.0 1255.4 810.5 1254.8 812.0 1254.3 813.5 1255.5 815.0 1254.6 816.5 1252.8 818.0 1253.8 819.5 1253.1 821.0 1254.0 822.5 1253.3 824.0 1253.2 825.5 1253.4 827.0 1253.6 828.5 1253.5 830.0 1253.5 831.5 1253.6 833.0 1254.1 834.5 1253.3 836.0 1254.1 837.5 1254.4 839.0 1254.6 840.5 1255.8 842.0 1255.2 843.5 1256.4 845.0 1256.8 846.5 1258.2 848.0 1258.3 849.5 1259.1 851.0 1259.9 852.5 1259.3 854.0 1261.1 855.5 1261.1 857.0 1262.0 858.5 1262.7 860.0 1263.8 861.5 1264.4 863.0 1265.6 864.5 1265.3 866.0 1265.5 867.5 1266.0 869.0 1267.1 870.5 1268.0 872.0 1267.7 873.5 1267.4 875.0 1268.2 876.5 1268.4 878.0 1268.6 879.5 1268.4 881.0 1267.6 882.5 1269.0 884.0 1270.1 885.5 1269.8 887.0 1268.7 888.5 1270.1 890.0 1269.3 891.5 1271.6 893.0 1270.8 894.5 1270.2 896.0 1271.4 897.5 1270.7 899.0 1271.6 900.5 1271.4 902.0 1270.9 903.5 1272.0 905.0 1271.0 906.5 1272.6 908.0 1271.9 909.5 1271.4 911.0 1271.0 912.5 1273.0 914.0 1273.0 915.5 1271.5 917.0 1273.2 918.5 1272.4 920.0 1272.2 921.5 1272.3 923.0 1272.3 924.5 1273.3 926.0 1272.6 927.5 1271.5 929.0 1273.7 930.5 1273.1 932.0 1272.0 933.5 1272.4 935.0 1272.2 936.5 1272.7 938.0 1272.9 939.5 1272.9 941.0 1272.4 942.5 1272.4 944.0 1273.3 945.5 1272.8 947.0 1274.2 948.5 1272.5 950.0 1273.4 951.5 1273.1 953.0 1272.7 954.5 1273.9 956.0 1273.2 957.5 1272.7 959.0 1273.1 960.5 1273.9 962.0 1272.7 963.5 1274.2 965.0 1273.8 966.5 1273.3 968.0 1274.3 969.5 1274.5 971.0 1274.0 972.5 1273.8 974.0 1274.7 975.5 1274.6 977.0 1273.3 978.5 1273.7 980.0 1273.8 981.5 1273.7 983.0 1273.1 984.5 1274.5 986.0 1274.1 987.5 1274.2 989.0 1275.0 990.5 1273.9 992.0 1274.2 993.5 1274.5 995.0 1274.1 996.5 1274.4 998.0 1274.9 999.5 1274.5 1001.0 1275.3 1002.5 1274.2 1004.0 1274.8 1005.5 1273.9 1007.0 1274.7 1008.5 1274.4 1010.0 1275.7 1011.5 1275.4 1013.0 1275.3 1014.5 1276.1 1016.0 1275.9 1017.5 1275.6 1019.0 1274.8 1020.5 1274.5 1022.0 1275.3 1023.5 1275.2 1025.0 1275.1 1026.5 1275.3 1028.0 1274.6 1029.5 1276.5 1031.0 1275.0 1032.5 1275.4 1034.0 1276.1 1035.5 1274.9 1037.0 1276.4 1038.5 1276.5 1040.0 1275.9 1041.5 1275.5 1043.0 1275.9 1044.5 1275.2 1046.0 1277.1 1047.5 1276.4 1049.0 1276.0 1050.5 1276.0 1052.0 1276.9 1053.5 1277.5 1055.0 1276.0 1056.5 1276.4 1058.0 1275.8 1059.5 1277.3 1061.0 1277.1 1062.5 1278.4 1064.0 1277.1 1065.5 1277.0 1067.0 1276.9 1068.5 1277.9 1070.0 1276.6 1071.5 1278.0 1073.0 1277.9 1074.5 1277.5 1076.0 1277.4 1077.5 1278.6 1079.0 1279.2 1080.5 1278.0 1082.0 1278.6 1083.5 1279.4 1085.0 1278.2 1086.5 1278.5 1088.0 1278.1 1089.5 1278.8 1091.0 1278.9 1092.5 1278.9 1094.0 1278.8 1095.5 1278.4 1097.0 1278.7 1098.5 1279.0 1100.0 1280.0 1101.5 1279.5 1103.0 1279.4 1104.5 1280.4 1106.0 1280.4 1107.5 1279.8 1109.0 1280.0 1110.5 1280.8 1112.0 1280.8 1113.5 1280.2 1115.0 1280.9 1116.5 1280.9 1118.0 1281.6 1119.5 1280.6 1121.0 1281.7 1122.5 1281.5 1124.0 1280.8 1125.5 1282.1 1127.0 1282.1 1128.5 1280.9 1130.0 1282.9 1131.5 1281.2 1133.0 1281.4 1134.5 1281.9 1136.0 1282.6 1137.5 1282.5 1139.0 1282.2 1140.5 1283.1 1142.0 1282.7 1143.5 1283.3 1145.0 1284.2 1146.5 1282.8 1148.0 1281.2 1149.5 1282.5 1151.0 1282.2 1152.5 1282.9 1154.0 1283.0 1155.5 1282.3 1157.0 1282.3 1158.5 1282.9 1160.0 1283.0 1161.5 1281.6 1163.0 1283.7 1164.5 1283.2 1166.0 1283.2 1167.5 1283.5 1169.0 1282.7 1170.5 1283.3 1172.0 1284.0 1173.5 1284.1 1175.0 1283.8 1176.5 1283.4 1178.0 1283.1 1179.5 1284.4 1181.0 1283.9 1182.5 1283.4 1184.0 1282.5 1185.5 1283.2 1187.0 1282.7 1188.5 1284.5 1190.0 1284.0 1191.5 1283.4 1193.0 1283.8 1194.5 1285.5 1196.0 1284.7 1197.5 1283.2 1199.0 1284.0 1200.5 1283.3 1202.0 1283.1 1203.5 1284.2 1205.0 1285.6 1206.5 1285.1 1208.0 1284.2 1209.5 1284.0 1211.0 1284.4 1212.5 1284.9 1214.0 1283.4 1215.5 1283.2 1217.0 1285.4 1218.5 1284.5 1220.0 1285.3 1221.5 1284.5 1223.0 1285.2 1224.5 1284.0 1226.0 1284.7 1227.5 1285.3 1229.0 1285.0 1230.5 1284.1 1232.0 1284.9 1233.5 1284.0 1235.0 1283.6 1236.5 1284.7 1238.0 1285.2 1239.5 1284.9 1241.0 1283.6 1242.5 1284.9 1244.0 1284.7 1245.5 1284.0 1247.0 1282.8 1248.5 1284.9 1250.0 1284.8 1251.5 1284.5 1253.0 1283.1 1254.5 1283.3 1256.0 1284.7 1257.5 1284.5 1259.0 1284.3 1260.5 1283.8 1262.0 1284.2 1263.5 1283.6 1265.0 1283.7 1266.5 1283.3 1268.0 1283.9 1269.5 1283.4 1271.0 1284.2 1272.5 1284.0 1274.0 1283.0 1275.5 1284.5 1277.0 1282.7 1278.5 1283.6 1280.0 1283.9 1281.5 1284.0 1283.0 1281.8 1284.5 1283.7 1286.0 1283.7 1287.5 1283.8 1289.0 1281.5 1290.5 1282.3 1292.0 1282.5 1293.5 1282.1 1295.0 1283.0 1296.5 1281.7 1298.0 1282.6 1299.5 1282.0 1301.0 1280.6 1302.5 1280.7 1304.0 1280.9 1305.5 1281.1 1307.0 1281.5 1308.5 1280.6 1310.0 1281.2 1311.5 1279.6 1313.0 1278.6 1314.5 1280.2 1316.0 1280.6 1317.5 1280.0 1319.0 1279.6 1320.5 1280.4 1322.0 1281.2 1323.5 1280.0 1325.0 1279.5 1326.5 1279.4 1328.0 1281.1 1329.5 1279.8 1331.0 1280.2 1332.5 1280.5 1334.0 1280.4 1335.5 1279.1 1337.0 1280.2 1338.5 1280.1 1340.0 1279.8 1341.5 1280.1 1343.0 1279.1 1344.5 1279.4 1346.0 1279.0 1347.5 1279.8 1349.0 1278.8 1350.5 1279.4 1352.0 1278.5 1353.5 1279.0 1355.0 1278.8 1356.5 1278.9 1358.0 1279.0 1359.5 1278.8 1361.0 1278.7 1362.5 1277.5 1364.0 1279.4 1365.5 1278.3 1367.0 1278.4 1368.5 1278.0 1370.0 1279.0 1371.5 1277.7 1373.0 1278.5 1374.5 1278.8 1376.0 1278.8 1377.5 1278.1 1379.0 1277.1 1380.5 1275.3 1382.0 1276.0 1383.5 1275.1 1385.0 1274.2 1386.5 1273.6 1388.0 1272.9 1389.5 1272.5 1391.0 1273.8 1392.5 1274.4 1394.0 1273.7 1395.5 1275.7 1397.0 1276.2 1398.5 1277.5 1400.0 1278.0 1401.5 1279.4 1403.0 1280.1 1404.5 1280.6 1406.0 1279.6 1407.5 1281.0 1409.0 1280.7 1410.5 1280.0 1412.0 1281.2 1413.5 1280.1 1415.0 1281.5 1416.5 1282.0 1418.0 1280.8 1419.5 1281.7 1421.0 1281.5 1422.5 1281.7 1424.0 1280.5 1425.5 1281.7 1427.0 1281.5 1428.5 1281.9 1430.0 1281.5 1431.5 1282.2 1433.0 1281.7 1434.5 1282.0 1436.0 1282.5 1437.5 1281.8 1439.0 1282.3 1440.5 1281.9 1442.0 1282.1 1443.5 1281.5 1445.0 1282.2 1446.5 1282.5 1448.0 1281.8 1449.5 1282.3 1451.0 1282.1 1452.5 1281.2 1454.0 1282.0 1455.5 1282.6 1457.0 1281.5 1458.5 1280.6 1460.0 1281.7 1461.5 1281.1 1463.0 1282.5 1464.5 1281.2 1466.0 1281.0 1467.5 1280.5 1469.0 1280.8 1470.5 1280.2 1472.0 1279.7 1473.5 1280.0 1475.0 1279.4 1476.5 1280.4 1478.0 1278.7 1479.5 1279.1 1481.0 1278.5 1482.5 1277.9 1484.0 1279.5 1485.5 1277.0 1487.0 1278.9 1488.5 1277.0 1490.0 1277.7 1491.5 1278.8 1493.0 1276.1 1494.5 1276.4 1496.0 1277.8 1497.5 1277.0 1499.0 1276.5 1500.5 1276.7 1502.0 1276.1 1503.5 1276.7 1505.0 1277.5 1506.5 1276.4 1508.0 1276.7 1509.5 1277.4 1511.0 1278.0 1512.5 1276.5 1514.0 1277.1 1515.5 1276.8 1517.0 1276.8 1518.5 1277.1 1520.0 1277.1 1521.5 1276.7 1523.0 1276.7 1524.5 1277.6 1526.0 1278.3 1527.5 1279.1 1529.0 1278.3 1530.5 1278.7 1532.0 1279.4 1533.5 1279.7 1535.0 1279.4 1536.5 1279.6 1538.0 1281.0 1539.5 1279.9 1541.0 1280.0 1542.5 1279.5 1544.0 1280.9 1545.5 1280.7 1547.0 1282.1 1548.5 1281.0 1550.0 1281.8 1551.5 1282.0 1553.0 1282.5 1554.5 1280.9 1556.0 1282.7 1557.5 1281.9 1559.0 1281.9 1560.5 1281.8 1562.0 1281.9 1563.5 1282.0 1565.0 1280.9 1566.5 1282.6 1568.0 1282.4 1569.5 1281.9 1571.0 1282.5 1572.5 1284.0 1574.0 1282.9 1575.5 1282.5 1577.0 1283.8 1578.5 1282.4 1580.0 1282.9 1581.5 1282.7 1583.0 1283.0 1584.5 1283.6 1586.0 1283.6 1587.5 1282.9 1589.0 1283.3 1590.5 1283.5 1592.0 1283.3 1593.5 1283.5 1595.0 1283.2 1596.5 1283.2 1598.0 1283.7 1599.5 1283.2 1601.0 1284.1 1602.5 1283.8 1604.0 1283.4 1605.5 1283.6 1607.0 1283.7 1608.5 1284.0 1610.0 1284.2 1611.5 1284.0 1613.0 1283.7 1614.5 1285.0 1616.0 1284.8 1617.5 1284.3 1619.0 1284.8 1620.5 1284.5 1622.0 1284.2 1623.5 1284.4 1625.0 1285.9 1626.5 1285.0 1628.0 1285.0 1629.5 1284.2 1631.0 1284.8 1632.5 1285.7 1634.0 1284.7 1635.5 1285.0 1637.0 1285.1 1638.5 1284.8 1640.0 1285.3 1641.5 1284.5 1643.0 1284.7 1644.5 1284.0 1646.0 1285.9 1647.5 1284.6 1649.0 1284.4 1650.5 1285.2 1652.0 1284.1 1653.5 1284.3 1655.0 1283.9 1656.5 1284.3 1658.0 1284.1 1659.5 1284.6 1661.0 1284.2 1662.5 1283.9 1664.0 1284.1 1665.5 1284.2 1667.0 1283.9 1668.5 1284.8 1670.0 1284.6 1671.5 1284.3 1673.0 1283.5 1674.5 1284.5 1676.0 1283.4 1677.5 1284.2 1679.0 1284.1 1680.5 1283.8 1682.0 1283.6 1683.5 1283.7 1685.0 1285.2 1686.5 1283.9 1688.0 1283.9 1689.5 1284.6 1691.0 1284.2 1692.5 1284.6 1694.0 1283.2 1695.5 1283.3 1697.0 1285.8 1698.5 1283.9 1700.0 1283.7 1701.5 1283.9 1703.0 1284.4 1704.5 1283.1 1706.0 1284.0 1707.5 1283.8 1709.0 1284.2 1710.5 1283.9 1712.0 1283.4 1713.5 1283.2 1715.0 1282.3 1716.5 1284.3 1718.0 1282.8 1719.5 1283.4 1721.0 1284.6 1722.5 1283.4 1724.0 1284.0 1725.5 1283.5 1727.0 1284.0 1728.5 1283.6 1730.0 1283.3 1731.5 1284.4 1733.0 1283.4 1734.5 1282.8 1736.0 1283.4 1737.5 1283.9 1739.0 1282.9 1740.5 1284.0 1742.0 1284.0 1743.5 1284.7 1745.0 1283.2 1746.5 1283.9 1748.0 1282.6 1749.5 1283.3 1751.0 1283.6 1752.5 1283.8 1754.0 1283.5 1755.5 1283.5 1757.0 1283.2 1758.5 1283.3 1760.0 1283.7 1761.5 1283.8 1763.0 1283.9 1764.5 1284.1 1766.0 1284.2 1767.5 1282.5 1769.0 1283.2 1770.5 1283.4 1772.0 1283.2 1773.5 1284.1 1775.0 1284.0 1776.5 1283.5 1778.0 1283.6 1779.5 1284.3 1781.0 1283.3 1782.5 1283.4 1784.0 1284.1 1785.5 1283.8 1787.0 1284.4 1788.5 1283.8 1790.0 1284.0 1791.5 1283.3 1793.0 1283.0 1794.5 1283.6 1796.0 1282.1 1797.5 1283.8 1799.0 1284.2 1800.5 1283.7 1802.0 1283.5 1803.5 1284.2 1805.0 1283.6 1806.5 1284.2 1808.0 1284.9 1809.5 1284.1 1811.0 1284.2 1812.5 1283.9 1814.0 1283.8 1815.5 1283.8 1817.0 1283.7 1818.5 1284.3 1820.0 1282.8 1821.5 1283.5 1823.0 1284.1 1824.5 1283.2 1826.0 1283.7 1827.5 1283.3 1829.0 1284.0 1830.5 1284.3 1832.0 1284.6 1833.5 1284.1 1835.0 1283.4 1836.5 1283.9 1838.0 1284.1 1839.5 1284.6 1841.0 1282.6 1842.5 1284.1 1844.0 1282.8 1845.5 1284.3 1847.0 1284.1 1848.5 1284.2 1850.0 1284.4 1851.5 1284.1 1853.0 1283.6 1854.5 1284.1 1856.0 1284.6 1857.5 1283.9 1859.0 1284.0 1860.5 1283.3 1862.0 1284.7 1863.5 1283.7 1865.0 1283.6 1866.5 1283.8 1868.0 1283.6 1869.5 1283.9 1871.0 1284.8 1872.5 1284.6 1874.0 1284.9 1875.5 1285.0 1877.0 1283.6 1878.5 1284.4 1880.0 1285.0 1881.5 1285.5 1883.0 1283.4 1884.5 1283.4 1886.0 1284.5 1887.5 1284.1 1889.0 1283.7 1890.5 1284.5 1892.0 1283.9 1893.5 1283.0 1895.0 1284.3 1896.5 1284.5 1898.0 1284.8 1899.5 1285.0 1901.0 1284.5 1902.5 1284.3 1904.0 1284.1 1905.5 1283.6 1907.0 1284.3 1908.5 1285.1 1910.0 1284.9 1911.5 1285.8 1913.0 1284.5 1914.5 1283.6 1916.0 1285.1 1917.5 1285.3 1919.0 1284.0 1920.5 1283.8 1922.0 1284.8 1923.5 1285.2 1925.0 1284.2 1926.5 1284.6 1928.0 1284.4 1929.5 1284.2 1931.0 1284.1 1932.5 1285.0 1934.0 1284.7 1935.5 1284.6 1937.0 1283.5" fill="none" stroke="#8000ff" stroke-width="3.5" stroke-linejoin="round"/>
<path d="M1056.5 121.19999999999999 L1077.5 141.7 L1056.5 162.2 L1035.5 141.7 Z" fill="#000"/>
<path d="M731.8 106.5 L752.3 126.5 L731.8 146.5 L711.3 126.5 Z" fill="#000"/>
<path d="M1538.3 114.8 L1584.8 114.8 L1561.55 161.3 Z" fill="#000"/>
<path d="M1299.5 552.8 L1346 552.8 L1322.75 599.2 Z" fill="#000"/>
<path d="M1033.20 206.40 L1079.60 206.40 L1056.40 249.50 Z M1038.89 209.80 L1073.91 209.80 L1056.40 242.33 Z" fill="#000" fill-rule="evenodd"/>
<path d="M1363.50 531.10 L1407.80 531.10 L1385.65 570.50 Z M1369.31 534.50 L1401.99 534.50 L1385.65 563.56 Z" fill="#000" fill-rule="evenodd"/>
<path d="M1626.10 581.10 L1667.40 581.10 L1646.75 619.50 Z M1631.79 584.50 L1661.71 584.50 L1646.75 612.32 Z" fill="#000" fill-rule="evenodd"/>
<circle cx="1552.5" cy="229.2" r="15" fill="#000"/>
<circle cx="832.2" cy="1227" r="15" fill="#000"/></svg></div>
</body></html>
